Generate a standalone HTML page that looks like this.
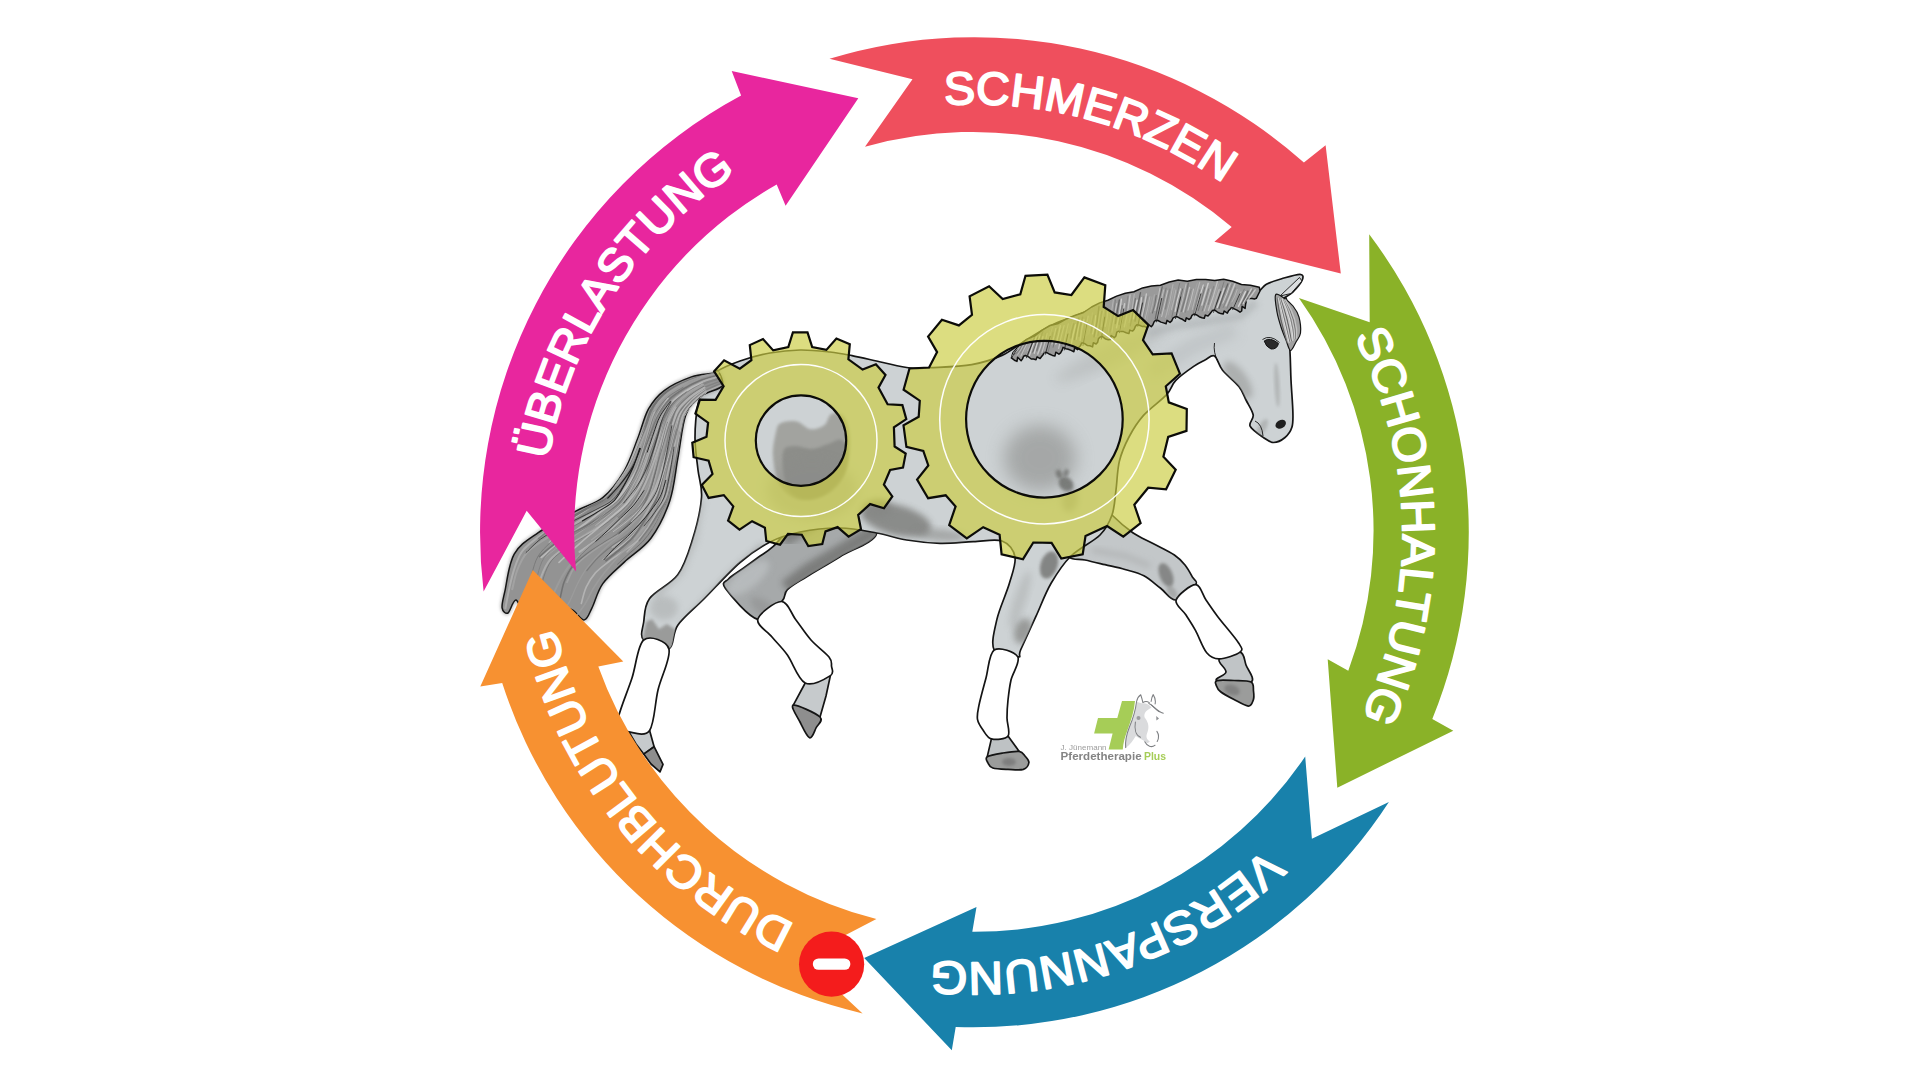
<!DOCTYPE html>
<html lang="de"><head><meta charset="utf-8"><title>Teufelskreis</title>
<style>
html,body{margin:0;padding:0;background:#fff;}
body{width:1920px;height:1080px;overflow:hidden;}
svg{display:block;}
.lbl{font-family:"Liberation Sans","DejaVu Sans",sans-serif;fill:#fff;font-weight:400;stroke:#fff;stroke-width:1.9px;stroke-linejoin:round;}
</style></head><body>
<svg width="1920" height="1080" viewBox="0 0 1920 1080">
<rect width="1920" height="1080" fill="#fff"/>
<defs>
<filter id="b2" x="-30%" y="-30%" width="160%" height="160%"><feGaussianBlur stdDeviation="1.6"/></filter>
<filter id="b3" x="-30%" y="-30%" width="160%" height="160%"><feGaussianBlur stdDeviation="3"/></filter>
<filter id="b6" x="-30%" y="-30%" width="160%" height="160%"><feGaussianBlur stdDeviation="6"/></filter>
<filter id="b8" x="-40%" y="-40%" width="180%" height="180%"><feGaussianBlur stdDeviation="9"/></filter>
</defs>
<g id="horse">
<path d="M876.7 533.0 C875.0 542.5 851.7 549.4 840.0 556.7 C828.3 564.0 815.5 571.2 806.7 576.7 C797.9 582.2 791.6 585.4 787.4 589.6 C783.2 593.8 786.6 596.8 781.7 601.7 C776.8 606.7 767.2 621.5 757.8 619.3 C748.4 617.1 730.4 595.2 725.5 588.5 C720.6 581.8 725.6 582.3 728.5 579.0 C731.4 575.7 738.1 572.1 743.0 568.5 C747.9 564.9 753.0 561.2 758.0 557.5 C763.0 553.8 766.3 552.6 773.3 546.4 C780.3 540.1 787.2 527.7 800.0 520.0 C812.8 512.3 837.2 497.8 850.0 500.0 C862.8 502.2 878.4 523.5 876.7 533.0 Z" fill="#a6a9aa" stroke="#141414" stroke-width="1.7" stroke-linejoin="round" />
<clipPath id="fhclip"><path d="M876.7 533.0 C875.0 542.5 851.7 549.4 840.0 556.7 C828.3 564.0 815.5 571.2 806.7 576.7 C797.9 582.2 791.6 585.4 787.4 589.6 C783.2 593.8 786.6 596.8 781.7 601.7 C776.8 606.7 767.2 621.5 757.8 619.3 C748.4 617.1 730.4 595.2 725.5 588.5 C720.6 581.8 725.6 582.3 728.5 579.0 C731.4 575.7 738.1 572.1 743.0 568.5 C747.9 564.9 753.0 561.2 758.0 557.5 C763.0 553.8 766.3 552.6 773.3 546.4 C780.3 540.1 787.2 527.7 800.0 520.0 C812.8 512.3 837.2 497.8 850.0 500.0 C862.8 502.2 878.4 523.5 876.7 533.0 Z"/></clipPath>
<g clip-path="url(#fhclip)"><path d="M880 528 L842 551 L808 571 L786 588" fill="none" stroke="#7a7b7a" stroke-width="15" opacity="0.95" filter="url(#b3)"/><path d="M880 505 L820 512 L780 535" fill="none" stroke="#7d7e7d" stroke-width="26" opacity="0.9" filter="url(#b3)"/><ellipse cx="748" cy="578" rx="10" ry="26" fill="#BBBFC1" opacity="0.8" filter="url(#b3)" transform="rotate(52 748 578)"/>
<ellipse cx="764" cy="608" rx="16" ry="7" fill="#8f9090" opacity="0.6" filter="url(#b3)" transform="rotate(35 764 608)"/>
</g>
<path d="M1105.0 505.0 C1113.7 500.8 1107.4 510.4 1112.0 515.0 C1116.6 519.6 1126.0 528.0 1132.8 532.8 C1139.6 537.5 1146.1 539.8 1153.0 543.5 C1159.9 547.2 1169.1 551.4 1174.4 555.0 C1179.7 558.6 1182.0 561.3 1185.0 565.0 C1188.0 568.7 1190.7 573.9 1192.5 577.2 C1194.3 580.5 1198.3 580.9 1195.6 584.7 C1192.9 588.5 1181.9 599.4 1176.1 600.0 C1170.3 600.6 1166.0 592.3 1160.6 588.3 C1155.2 584.3 1149.8 578.9 1143.9 575.8 C1138.0 572.7 1131.5 571.4 1125.0 569.5 C1118.5 567.6 1111.7 566.3 1105.0 564.7 C1098.3 563.1 1091.0 561.3 1085.0 560.0 C1079.0 558.7 1073.1 560.4 1068.9 557.1 C1064.7 553.8 1054.0 548.7 1060.0 540.0 C1066.0 531.3 1096.3 509.2 1105.0 505.0 Z" fill="#C3C7C9" stroke="#141414" stroke-width="1.7" stroke-linejoin="round" />
<path d="M805.2 683.0 L793.3 705.2 L800.0 712.0 L820.0 717.0 L826.0 696.0 L830.4 675.6 Z" fill="#C6CACC" stroke="#141414" stroke-width="1.7" stroke-linejoin="round" />
<path d="M793.3 705.2 C790.0 706.0 797.3 716.6 800.0 722.0 C802.7 727.4 806.9 736.8 809.6 737.8 C812.3 738.8 814.3 731.5 816.0 728.0 C817.7 724.5 823.8 720.8 820.0 717.0 C816.2 713.2 796.6 704.4 793.3 705.2 Z" fill="#8e8e8e" stroke="#141414" stroke-width="1.7" stroke-linejoin="round" />
<path d="M757.8 619.3 C756.2 625.2 767.1 631.0 772.0 637.0 C776.9 643.0 781.9 647.3 787.4 655.0 C792.9 662.7 798.0 679.6 805.2 683.0 C812.4 686.4 826.0 678.4 830.4 675.6 C834.8 672.8 831.7 669.1 831.5 666.0 C831.3 662.9 832.4 661.3 829.0 657.0 C825.6 652.7 816.5 646.2 811.0 640.0 C805.5 633.8 800.9 626.4 796.0 620.0 C791.1 613.6 787.9 601.6 781.5 601.5 C775.1 601.4 759.4 613.4 757.8 619.3 Z" fill="#fff" stroke="#141414" stroke-width="1.7" stroke-linejoin="round"/>
<path d="M1219.2 658.9 C1216.9 662.2 1226.4 668.4 1226.0 672.0 C1225.6 675.6 1212.8 678.9 1217.0 680.6 C1221.2 682.3 1246.3 684.6 1251.1 682.0 C1255.9 679.4 1247.8 670.0 1246.0 665.0 C1244.2 660.0 1244.5 653.2 1240.0 652.2 C1235.5 651.2 1221.5 655.6 1219.2 658.9 Z" fill="#C0C4C6" stroke="#141414" stroke-width="1.7" stroke-linejoin="round" />
<path d="M1217.0 680.6 C1214.1 681.5 1215.9 684.1 1216.5 686.0 C1217.1 687.9 1217.7 689.5 1220.6 691.7 C1223.5 694.0 1229.4 697.1 1234.0 699.5 C1238.6 701.9 1245.1 706.0 1248.3 706.1 C1251.5 706.2 1252.4 702.5 1253.3 700.0 C1254.2 697.5 1253.9 694.0 1253.5 691.0 C1253.1 688.0 1254.3 683.8 1251.1 682.0 C1247.8 680.2 1239.7 680.7 1234.0 680.5 C1228.3 680.3 1219.9 679.7 1217.0 680.6 Z" fill="#9b9c9b" stroke="#141414" stroke-width="1.7" stroke-linejoin="round" />
<path d="M1176.1 600.0 C1174.5 605.0 1182.8 609.9 1186.0 615.0 C1189.2 620.1 1192.1 624.3 1195.6 630.6 C1199.0 636.9 1202.8 648.1 1206.7 652.8 C1210.6 657.5 1213.7 659.0 1219.2 658.9 C1224.8 658.8 1236.8 654.9 1240.0 652.2 C1243.2 649.6 1242.3 648.9 1238.6 643.0 C1234.9 637.1 1223.2 623.9 1217.8 616.7 C1212.4 609.5 1209.7 605.3 1206.0 600.0 C1202.3 594.7 1200.6 584.7 1195.6 584.7 C1190.6 584.7 1177.7 595.0 1176.1 600.0 Z" fill="#fff" stroke="#141414" stroke-width="1.7" stroke-linejoin="round"/>
<clipPath id="bodyclip"><path d="M716.0 372.0 C721.8 368.0 731.0 364.2 740.0 361.0 C749.0 357.8 760.0 354.8 770.0 353.0 C780.0 351.2 790.0 350.2 800.0 350.0 C810.0 349.8 821.3 351.1 830.0 352.0 C838.7 352.9 843.2 353.9 852.0 355.6 C860.8 357.4 873.3 360.4 883.0 362.5 C892.7 364.6 902.2 367.1 910.0 368.0 C917.8 368.9 919.7 368.3 930.0 367.7 C940.3 367.1 959.7 366.7 971.7 364.6 C983.7 362.6 993.4 359.2 1002.0 355.4 C1010.6 351.6 1015.6 346.6 1023.6 341.7 C1031.6 336.8 1041.3 330.3 1050.0 326.0 C1058.7 321.7 1066.3 319.5 1075.6 315.7 C1084.9 311.9 1095.1 306.9 1106.0 303.0 C1116.9 299.1 1129.0 295.0 1141.0 292.0 C1153.0 289.0 1164.5 286.3 1178.0 285.0 C1191.5 283.7 1209.7 283.3 1222.0 284.0 C1234.3 284.7 1245.8 287.9 1252.0 289.0 C1258.2 290.1 1256.9 291.5 1259.3 290.7 C1261.7 289.9 1262.7 286.2 1266.4 284.2 C1270.1 282.2 1276.1 280.3 1281.7 278.7 C1287.3 277.1 1296.6 274.1 1300.0 274.3 C1303.4 274.5 1303.5 277.0 1302.3 280.0 C1301.0 283.0 1295.6 289.4 1292.5 292.5 C1289.4 295.6 1284.6 296.9 1283.7 298.5 C1282.8 300.1 1286.0 293.4 1287.0 302.0 C1288.0 310.6 1289.2 336.8 1289.9 349.8 C1290.6 362.8 1290.5 369.5 1291.0 380.0 C1291.5 390.5 1292.8 405.1 1292.9 413.0 C1293.1 420.9 1293.2 423.2 1291.9 427.3 C1290.6 431.4 1288.0 435.0 1285.0 437.5 C1282.0 440.0 1277.2 442.5 1273.6 442.5 C1270.0 442.5 1267.3 440.2 1263.4 437.5 C1259.5 434.8 1251.8 429.9 1250.1 426.2 C1248.4 422.4 1253.9 419.4 1253.2 415.0 C1252.5 410.6 1248.4 404.8 1246.0 400.0 C1243.6 395.2 1242.8 391.5 1238.9 386.5 C1235.0 381.5 1226.7 375.3 1222.6 370.2 C1218.5 365.1 1217.4 357.7 1214.5 356.0 C1211.6 354.3 1208.4 358.3 1205.0 360.0 C1201.6 361.7 1199.0 362.7 1194.1 366.1 C1189.2 369.5 1180.4 375.6 1175.8 380.4 C1171.2 385.2 1171.8 389.1 1166.4 394.9 C1161.0 400.7 1149.7 408.4 1143.5 415.4 C1137.3 422.4 1133.0 429.4 1129.0 437.0 C1125.0 444.6 1121.6 452.3 1119.4 461.1 C1117.2 469.9 1117.2 481.0 1116.0 490.0 C1114.8 499.0 1114.7 507.5 1112.0 515.0 C1109.3 522.5 1106.8 528.2 1100.0 535.0 C1093.2 541.8 1079.2 548.0 1071.0 556.0 C1062.8 564.0 1057.0 573.2 1051.1 583.3 C1045.2 593.4 1040.9 605.6 1035.8 616.7 C1030.7 627.8 1023.6 643.3 1020.6 650.0 C1017.6 656.7 1022.2 656.9 1017.8 656.9 C1013.4 656.9 997.7 656.2 994.2 650.0 C990.7 643.8 994.4 630.5 996.9 619.4 C999.4 608.3 1006.4 593.7 1009.4 583.3 C1012.4 572.9 1016.2 564.0 1015.0 557.0 C1013.8 550.0 1009.0 543.5 1002.0 541.0 C995.0 538.5 983.6 541.3 973.3 541.7 C963.0 542.1 951.1 543.6 940.0 543.3 C928.9 543.0 917.2 541.7 906.7 540.0 C896.2 538.3 887.8 535.0 876.7 533.0 C865.6 531.0 852.8 528.2 840.0 528.0 C827.2 527.8 811.7 529.6 800.0 532.0 C788.3 534.4 779.6 537.1 769.6 542.2 C759.6 547.3 750.9 553.1 740.0 562.5 C729.1 571.9 714.8 588.0 704.4 598.5 C694.0 609.0 683.7 616.8 677.8 625.2 C671.9 633.6 674.6 646.4 668.9 648.9 C663.2 651.4 647.9 644.5 643.7 640.0 C639.5 635.5 642.7 629.1 643.7 622.2 C644.7 615.3 643.9 606.4 649.6 598.5 C655.3 590.6 670.6 584.7 677.8 574.8 C685.0 564.9 688.6 552.1 692.6 539.3 C696.6 526.5 700.6 509.4 701.5 497.8 C702.4 486.2 699.1 480.0 698.0 470.0 C696.9 460.0 695.0 449.0 695.0 438.0 C695.0 427.0 696.3 412.8 698.0 404.0 C699.7 395.2 702.0 390.3 705.0 385.0 C708.0 379.7 710.2 376.0 716.0 372.0 Z"/></clipPath>
<path d="M716.0 372.0 C721.8 368.0 731.0 364.2 740.0 361.0 C749.0 357.8 760.0 354.8 770.0 353.0 C780.0 351.2 790.0 350.2 800.0 350.0 C810.0 349.8 821.3 351.1 830.0 352.0 C838.7 352.9 843.2 353.9 852.0 355.6 C860.8 357.4 873.3 360.4 883.0 362.5 C892.7 364.6 902.2 367.1 910.0 368.0 C917.8 368.9 919.7 368.3 930.0 367.7 C940.3 367.1 959.7 366.7 971.7 364.6 C983.7 362.6 993.4 359.2 1002.0 355.4 C1010.6 351.6 1015.6 346.6 1023.6 341.7 C1031.6 336.8 1041.3 330.3 1050.0 326.0 C1058.7 321.7 1066.3 319.5 1075.6 315.7 C1084.9 311.9 1095.1 306.9 1106.0 303.0 C1116.9 299.1 1129.0 295.0 1141.0 292.0 C1153.0 289.0 1164.5 286.3 1178.0 285.0 C1191.5 283.7 1209.7 283.3 1222.0 284.0 C1234.3 284.7 1245.8 287.9 1252.0 289.0 C1258.2 290.1 1256.9 291.5 1259.3 290.7 C1261.7 289.9 1262.7 286.2 1266.4 284.2 C1270.1 282.2 1276.1 280.3 1281.7 278.7 C1287.3 277.1 1296.6 274.1 1300.0 274.3 C1303.4 274.5 1303.5 277.0 1302.3 280.0 C1301.0 283.0 1295.6 289.4 1292.5 292.5 C1289.4 295.6 1284.6 296.9 1283.7 298.5 C1282.8 300.1 1286.0 293.4 1287.0 302.0 C1288.0 310.6 1289.2 336.8 1289.9 349.8 C1290.6 362.8 1290.5 369.5 1291.0 380.0 C1291.5 390.5 1292.8 405.1 1292.9 413.0 C1293.1 420.9 1293.2 423.2 1291.9 427.3 C1290.6 431.4 1288.0 435.0 1285.0 437.5 C1282.0 440.0 1277.2 442.5 1273.6 442.5 C1270.0 442.5 1267.3 440.2 1263.4 437.5 C1259.5 434.8 1251.8 429.9 1250.1 426.2 C1248.4 422.4 1253.9 419.4 1253.2 415.0 C1252.5 410.6 1248.4 404.8 1246.0 400.0 C1243.6 395.2 1242.8 391.5 1238.9 386.5 C1235.0 381.5 1226.7 375.3 1222.6 370.2 C1218.5 365.1 1217.4 357.7 1214.5 356.0 C1211.6 354.3 1208.4 358.3 1205.0 360.0 C1201.6 361.7 1199.0 362.7 1194.1 366.1 C1189.2 369.5 1180.4 375.6 1175.8 380.4 C1171.2 385.2 1171.8 389.1 1166.4 394.9 C1161.0 400.7 1149.7 408.4 1143.5 415.4 C1137.3 422.4 1133.0 429.4 1129.0 437.0 C1125.0 444.6 1121.6 452.3 1119.4 461.1 C1117.2 469.9 1117.2 481.0 1116.0 490.0 C1114.8 499.0 1114.7 507.5 1112.0 515.0 C1109.3 522.5 1106.8 528.2 1100.0 535.0 C1093.2 541.8 1079.2 548.0 1071.0 556.0 C1062.8 564.0 1057.0 573.2 1051.1 583.3 C1045.2 593.4 1040.9 605.6 1035.8 616.7 C1030.7 627.8 1023.6 643.3 1020.6 650.0 C1017.6 656.7 1022.2 656.9 1017.8 656.9 C1013.4 656.9 997.7 656.2 994.2 650.0 C990.7 643.8 994.4 630.5 996.9 619.4 C999.4 608.3 1006.4 593.7 1009.4 583.3 C1012.4 572.9 1016.2 564.0 1015.0 557.0 C1013.8 550.0 1009.0 543.5 1002.0 541.0 C995.0 538.5 983.6 541.3 973.3 541.7 C963.0 542.1 951.1 543.6 940.0 543.3 C928.9 543.0 917.2 541.7 906.7 540.0 C896.2 538.3 887.8 535.0 876.7 533.0 C865.6 531.0 852.8 528.2 840.0 528.0 C827.2 527.8 811.7 529.6 800.0 532.0 C788.3 534.4 779.6 537.1 769.6 542.2 C759.6 547.3 750.9 553.1 740.0 562.5 C729.1 571.9 714.8 588.0 704.4 598.5 C694.0 609.0 683.7 616.8 677.8 625.2 C671.9 633.6 674.6 646.4 668.9 648.9 C663.2 651.4 647.9 644.5 643.7 640.0 C639.5 635.5 642.7 629.1 643.7 622.2 C644.7 615.3 643.9 606.4 649.6 598.5 C655.3 590.6 670.6 584.7 677.8 574.8 C685.0 564.9 688.6 552.1 692.6 539.3 C696.6 526.5 700.6 509.4 701.5 497.8 C702.4 486.2 699.1 480.0 698.0 470.0 C696.9 460.0 695.0 449.0 695.0 438.0 C695.0 427.0 696.3 412.8 698.0 404.0 C699.7 395.2 702.0 390.3 705.0 385.0 C708.0 379.7 710.2 376.0 716.0 372.0 Z" fill="#CDD2D4" stroke="#141414" stroke-width="1.7" stroke-linejoin="round" />
<g clip-path="url(#bodyclip)">
<path d="M776.0 432.0 C777.3 426.3 777.5 424.8 781.0 423.0 C784.5 421.2 791.8 420.5 796.7 421.5 C801.6 422.5 806.0 428.6 810.6 429.2 C815.2 429.8 820.9 427.6 824.4 425.0 C827.9 422.4 828.1 415.3 831.4 413.9 C834.6 412.5 840.8 412.5 843.9 416.7 C847.0 420.9 849.6 430.0 850.0 438.9 C850.4 447.8 849.3 461.1 846.0 470.0 C842.7 478.9 837.3 487.0 830.0 492.0 C822.7 497.0 810.4 500.8 802.2 500.0 C794.0 499.2 785.9 494.2 781.0 487.0 C776.1 479.8 773.8 466.2 773.0 457.0 C772.2 447.8 774.7 437.7 776.0 432.0 Z" fill="#a0a19d" opacity="0.95" filter="url(#b2)"/>
<path d="M783.0 452.0 C784.5 445.7 790.2 446.5 795.0 446.0 C799.8 445.5 806.5 449.3 812.0 449.0 C817.5 448.7 823.0 445.5 828.0 444.0 C833.0 442.5 838.7 438.2 842.0 440.0 C845.3 441.8 848.0 448.7 848.0 455.0 C848.0 461.3 846.3 471.2 842.0 478.0 C837.7 484.8 829.0 492.7 822.0 496.0 C815.0 499.3 806.0 500.0 800.0 498.0 C794.0 496.0 788.8 491.7 786.0 484.0 C783.2 476.3 781.5 458.3 783.0 452.0 Z" fill="#8c8d89" opacity="0.95" filter="url(#b2)"/>
<ellipse cx="812" cy="490" rx="45" ry="30" fill="#8a8b89" opacity="0.35" filter="url(#b6)"/>
<ellipse cx="1040" cy="458" rx="36" ry="33" fill="#8a8b89" opacity="0.6" filter="url(#b8)"/>
<ellipse cx="1066" cy="484" rx="8" ry="6.5" fill="#6e6f6d" opacity="0.85" filter="url(#b2)" transform="rotate(40 1066 484)"/>
<ellipse cx="1059" cy="474" rx="3" ry="4.5" fill="#6e6f6d" opacity="0.8" filter="url(#b2)" transform="rotate(-20 1059 474)"/>
<ellipse cx="1066" cy="473" rx="2.5" ry="4" fill="#6e6f6d" opacity="0.75" filter="url(#b2)" transform="rotate(20 1066 473)"/>
<ellipse cx="1070" cy="500" rx="8" ry="12" fill="#7a7b79" opacity="0.4" filter="url(#b3)" transform="rotate(10 1070 500)"/>
<ellipse cx="896" cy="520" rx="36" ry="15" fill="#838482" opacity="0.9" filter="url(#b3)" transform="rotate(14 896 520)"/>
<ellipse cx="878" cy="508" rx="14" ry="9" fill="#858684" opacity="0.7" filter="url(#b3)"/>
<ellipse cx="940" cy="535" rx="26" ry="6" fill="#858684" opacity="0.55" filter="url(#b3)" transform="rotate(5 940 535)"/>
<path d="M646.0 622.0 L652.0 619.0 L659.0 629.0 L667.0 624.0 L676.0 630.0 L673.0 650.0 L642.0 642.0 Z" fill="#979897" opacity="0.95" filter="url(#b2)"/>
<ellipse cx="664" cy="608" rx="14" ry="12" fill="#a3a5a5" opacity="0.45" filter="url(#b3)"/>
<path d="M764 547 L736 572 L706 603 L684 628" fill="none" stroke="#9c9e9e" stroke-width="9" opacity="0.7" filter="url(#b3)"/>
<path d="M701 500 L694 540 L680 572 L655 597" fill="none" stroke="#a8aaaa" stroke-width="6" opacity="0.55" filter="url(#b3)"/>
<ellipse cx="1049" cy="565" rx="8.5" ry="14" fill="#7c7d7b" opacity="0.9" filter="url(#b2)" transform="rotate(18 1049 565)"/>
<ellipse cx="1023" cy="631" rx="8.5" ry="13" fill="#8a8b89" opacity="0.8" filter="url(#b3)" transform="rotate(20 1023 631)"/>
<ellipse cx="1020" cy="600" rx="6" ry="30" fill="#8c8d8b" opacity="0.25" filter="url(#b3)" transform="rotate(18 1020 600)"/>
<ellipse cx="1238" cy="380" rx="9" ry="22" fill="#8c8d8b" opacity="0.5" filter="url(#b3)" transform="rotate(-35 1238 380)"/>
<ellipse cx="1277" cy="385" rx="2.5" ry="22" fill="#8c8d8b" opacity="0.4" filter="url(#b2)" transform="rotate(-3 1277 385)"/>
<ellipse cx="1262" cy="428" rx="4" ry="10" fill="#8c8d8b" opacity="0.4" filter="url(#b2)" transform="rotate(30 1262 428)"/>
<ellipse cx="1110" cy="355" rx="60" ry="10" fill="#8c8d8b" opacity="0.22" filter="url(#b6)" transform="rotate(-25 1110 355)"/>
<path d="M1148 333 L1180 325 L1203 322 L1240 316 L1256 302" fill="none" stroke="#a9adaf" stroke-width="8" opacity="0.6" filter="url(#b3)"/>
<path d="M1150 372 L1195 345 L1235 330" fill="none" stroke="#b3b7b9" stroke-width="14" opacity="0.5" filter="url(#b6)"/>
</g>
<ellipse cx="1166" cy="575" rx="6.5" ry="12.5" fill="#7c7d7b" opacity="0.85" filter="url(#b2)" transform="rotate(-22 1166 575)"/>
<ellipse cx="1172" cy="592" rx="4" ry="7" fill="#8a8b89" opacity="0.5" filter="url(#b2)" transform="rotate(-35 1172 592)"/>
<path d="M1092 550 L1125 556 L1150 566" fill="none" stroke="#a4a6a6" stroke-width="5" opacity="0.55" filter="url(#b3)"/>
<g><path d="M718.0 371.0 C716.5 368.9 717.3 372.2 712.9 373.2 C708.5 374.2 699.5 374.0 691.4 376.9 C683.3 379.8 671.7 384.9 664.5 390.3 C657.3 395.7 652.9 401.1 648.4 409.1 C643.9 417.2 641.7 428.3 637.7 438.6 C633.7 448.9 630.1 461.0 624.3 470.8 C618.5 480.6 610.9 491.0 602.8 497.7 C594.7 504.4 586.6 505.3 575.9 511.1 C565.1 516.9 548.6 525.4 538.3 532.6 C528.0 539.8 519.8 544.2 514.2 554.1 C508.6 564.0 506.8 582.8 504.8 591.7 C502.8 600.7 501.6 604.2 502.1 607.8 C502.6 611.3 505.7 614.3 508.0 613.0 C510.3 611.7 513.0 599.5 516.0 600.0 C519.0 600.5 522.0 615.3 526.0 616.0 C530.0 616.7 535.0 603.0 540.0 604.0 C545.0 605.0 551.0 621.2 556.0 622.0 C561.0 622.8 565.3 609.3 570.0 609.0 C574.7 608.7 580.3 620.2 584.0 620.0 C587.7 619.8 588.9 613.9 592.0 607.8 C595.1 601.7 597.4 591.2 602.8 583.6 C608.2 576.0 616.2 569.7 624.3 562.1 C632.3 554.5 643.5 548.3 651.1 538.0 C658.7 527.7 665.4 513.8 669.9 500.4 C674.4 487.0 675.3 471.7 678.0 457.4 C680.7 443.1 682.0 424.7 686.0 414.4 C690.0 404.1 696.1 400.3 702.1 395.6 C708.1 390.9 719.4 390.1 722.0 386.0 C724.6 381.9 719.5 373.1 718.0 371.0 Z" fill="none" stroke="#9a9a9a" stroke-width="4" opacity="0.55" filter="url(#b2)"/>
<path d="M718.0 371.0 C716.5 368.9 717.3 372.2 712.9 373.2 C708.5 374.2 699.5 374.0 691.4 376.9 C683.3 379.8 671.7 384.9 664.5 390.3 C657.3 395.7 652.9 401.1 648.4 409.1 C643.9 417.2 641.7 428.3 637.7 438.6 C633.7 448.9 630.1 461.0 624.3 470.8 C618.5 480.6 610.9 491.0 602.8 497.7 C594.7 504.4 586.6 505.3 575.9 511.1 C565.1 516.9 548.6 525.4 538.3 532.6 C528.0 539.8 519.8 544.2 514.2 554.1 C508.6 564.0 506.8 582.8 504.8 591.7 C502.8 600.7 501.6 604.2 502.1 607.8 C502.6 611.3 505.7 614.3 508.0 613.0 C510.3 611.7 513.0 599.5 516.0 600.0 C519.0 600.5 522.0 615.3 526.0 616.0 C530.0 616.7 535.0 603.0 540.0 604.0 C545.0 605.0 551.0 621.2 556.0 622.0 C561.0 622.8 565.3 609.3 570.0 609.0 C574.7 608.7 580.3 620.2 584.0 620.0 C587.7 619.8 588.9 613.9 592.0 607.8 C595.1 601.7 597.4 591.2 602.8 583.6 C608.2 576.0 616.2 569.7 624.3 562.1 C632.3 554.5 643.5 548.3 651.1 538.0 C658.7 527.7 665.4 513.8 669.9 500.4 C674.4 487.0 675.3 471.7 678.0 457.4 C680.7 443.1 682.0 424.7 686.0 414.4 C690.0 404.1 696.1 400.3 702.1 395.6 C708.1 390.9 719.4 390.1 722.0 386.0 C724.6 381.9 719.5 373.1 718.0 371.0 Z" fill="#939393" stroke="#161616" stroke-width="1.5"/>
<g fill="none" stroke-linecap="round">
<path d="M650.6 409.1 C649.4 412.2 645.8 421.6 643.5 427.8 C641.1 434.0 638.8 440.3 636.4 446.6 C634.0 452.8 631.9 459.3 628.8 465.1 C625.8 471.0 622.0 476.5 618.2 481.9 C614.3 487.3 610.7 493.4 605.8 497.7 C600.8 501.9 594.2 504.0 588.4 507.2 C582.5 510.4 576.7 513.6 570.8 516.9 C565.0 520.1 559.2 523.4 553.5 526.9 C547.8 530.5 542.2 534.0 536.9 538.1 C531.7 542.2 525.8 546.3 522.0 551.5 C518.2 556.7 516.3 563.0 514.2 569.2 C512.1 575.4 510.7 582.1 509.2 588.6 C507.8 595.2 506.0 605.0 505.4 608.3" stroke="#b4b4b4" stroke-width="2.0" opacity="0.8"/>
<path d="M650.6 409.1 C649.5 412.3 646.2 421.8 644.0 428.1 C641.8 434.5 639.8 440.9 637.4 447.1 C635.0 453.3 632.7 459.6 629.5 465.4 C626.3 471.2 622.1 476.5 618.2 481.9 C614.2 487.3 610.7 493.4 605.8 497.7 C600.8 501.9 594.2 504.0 588.4 507.2 C582.5 510.4 576.7 513.6 570.8 516.9 C565.0 520.1 558.9 523.3 553.5 526.9 C548.1 530.6 540.9 536.6 538.4 538.6" stroke="#747474" stroke-width="1.3" opacity="0.8"/>
<path d="M664.1 394.6 C662.1 397.2 655.4 404.7 652.1 410.3 C648.9 416.0 647.3 422.5 644.7 428.6 C642.2 434.7 639.5 440.7 636.8 446.8 C634.2 452.9 631.9 459.3 628.8 465.1 C625.7 471.0 622.0 476.5 618.2 481.9 C614.3 487.3 610.5 493.4 605.8 497.7 C601.2 502.0 595.3 504.4 590.1 507.8 C584.8 511.2 579.7 514.6 574.2 518.0 C568.7 521.4 560.1 526.5 557.3 528.2" stroke="#c2c2c2" stroke-width="1.0" opacity="0.8"/>
<path d="M699.1 377.0 C696.0 378.2 686.6 381.3 680.7 384.1 C674.8 387.0 668.6 389.9 663.8 394.2 C658.9 398.5 654.6 404.0 651.5 409.9 C648.4 415.7 647.4 422.6 645.4 429.0 C643.3 435.4 641.4 441.8 639.2 448.0 C636.9 454.2 635.0 460.6 631.9 466.4 C628.8 472.2 625.0 477.5 620.9 482.8 C616.8 488.1 612.6 494.0 607.3 498.1 C602.0 502.2 595.0 504.3 589.1 507.5 C583.2 510.7 574.7 515.6 571.9 517.2" stroke="#6a6a6a" stroke-width="2.4" opacity="0.8"/>
<path d="M718.4 372.5 C715.2 373.3 705.5 375.3 699.3 377.4 C693.1 379.5 687.0 381.9 681.3 385.0 C675.6 388.0 669.8 391.3 665.2 395.7 C660.6 400.2 656.8 405.9 653.6 411.5 C650.5 417.2 648.9 423.6 646.4 429.6 C643.9 435.7 641.3 441.7 638.7 447.7 C636.0 453.8 633.6 460.0 630.5 465.8 C627.4 471.6 623.6 477.1 620.0 482.5 C616.3 488.0 613.0 494.1 608.6 498.5 C604.2 502.9 598.4 505.4 593.3 508.9 C588.2 512.3 583.1 515.8 577.8 519.3 C572.4 522.7 566.7 526.0 561.0 529.5 C555.3 533.0 549.2 536.3 543.5 540.2 C537.8 544.1 531.1 547.9 526.7 552.9 C522.3 557.8 519.7 563.9 517.3 570.0 C514.9 576.1 513.1 586.1 512.2 589.3" stroke="#a6a6a6" stroke-width="2.0" opacity="0.8"/>
<path d="M654.1 411.9 C653.1 415.0 650.0 424.4 647.7 430.5 C645.5 436.7 643.2 442.7 640.7 448.8 C638.2 454.8 635.8 461.0 632.6 466.7 C629.4 472.4 625.4 477.7 621.5 483.0 C617.6 488.4 613.8 494.4 609.1 498.6 C604.3 502.9 598.2 505.3 593.0 508.8 C587.8 512.2 582.9 515.8 577.8 519.3 C572.8 522.8 565.1 528.2 562.6 530.0" stroke="#7e7e7e" stroke-width="2.4" opacity="0.8"/>
<path d="M654.0 411.8 C652.8 414.8 649.0 423.7 646.6 429.8 C644.2 435.8 641.9 442.0 639.6 448.2 C637.4 454.4 635.6 460.9 633.0 466.9 C630.5 472.8 627.6 478.5 624.3 484.0 C621.1 489.5 618.1 495.6 613.7 500.0 C609.3 504.4 603.4 507.1 597.9 510.4 C592.4 513.8 583.3 518.6 580.4 520.2" stroke="#bcbcbc" stroke-width="1.0" opacity="0.8"/>
<path d="M700.0 378.8 C697.0 380.1 688.1 383.6 682.5 386.7 C676.9 389.8 671.2 393.0 666.6 397.3 C661.9 401.5 657.8 406.8 654.6 412.3 C651.4 417.8 649.7 424.2 647.3 430.3 C645.0 436.3 642.8 442.5 640.6 448.7 C638.4 454.9 636.7 461.4 634.2 467.4 C631.7 473.3 628.9 479.0 625.8 484.5 C622.6 490.0 619.5 496.1 615.1 500.5 C610.7 504.9 602.0 509.2 599.4 510.9" stroke="#9e9e9e" stroke-width="2.0" opacity="0.8"/>
<path d="M654.8 412.4 C653.8 415.5 650.7 424.9 648.8 431.2 C646.9 437.5 645.3 443.9 643.3 450.1 C641.4 456.3 639.8 462.7 637.2 468.6 C634.6 474.4 631.5 479.9 627.9 485.2 C624.2 490.6 620.3 496.3 615.3 500.5 C610.4 504.7 603.8 507.2 598.0 510.4 C592.2 513.7 586.1 516.9 580.5 520.2 C574.9 523.6 569.2 526.9 564.1 530.5 C559.0 534.2 552.2 540.3 549.8 542.3" stroke="#b4b4b4" stroke-width="2.4" opacity="0.8"/>
<path d="M683.0 387.4 C680.3 389.1 671.7 393.5 667.1 397.8 C662.5 402.0 658.4 407.3 655.4 412.9 C652.4 418.5 651.1 425.2 649.2 431.4 C647.2 437.6 645.5 444.0 643.6 450.2 C641.7 456.5 640.2 462.9 637.8 468.8 C635.5 474.8 632.7 480.3 629.3 485.7 C625.9 491.1 622.3 496.9 617.5 501.2 C612.7 505.4 606.4 508.0 600.7 511.3 C594.9 514.7 588.8 517.8 582.9 521.1 C577.1 524.3 571.0 527.5 565.6 531.1 C560.2 534.6 555.1 538.3 550.5 542.5 C545.9 546.7 541.2 551.0 538.1 556.2 C534.9 561.4 533.7 567.6 531.8 573.6 C530.0 579.7 528.9 586.2 527.2 592.3 C525.4 598.5 522.3 607.6 521.4 610.7" stroke="#747474" stroke-width="1.0" opacity="0.8"/>
<path d="M667.9 398.7 C666.3 401.4 660.6 409.1 657.9 414.9 C655.3 420.6 654.1 427.1 652.0 433.2 C649.9 439.2 647.8 445.2 645.4 451.2 C643.0 457.1 640.7 463.1 637.8 468.8 C634.8 474.5 631.3 479.8 627.6 485.1 C623.9 490.4 620.2 496.3 615.8 500.7 C611.4 505.0 605.9 507.8 601.0 511.5 C596.2 515.1 591.6 518.8 586.8 522.4 C582.0 526.1 577.1 529.6 572.1 533.3 C567.1 537.0 562.0 540.6 556.9 544.6 C551.8 548.6 544.0 555.1 541.4 557.2" stroke="#c2c2c2" stroke-width="2.0" opacity="0.8"/>
<path d="M719.0 374.9 C716.0 375.8 706.6 378.1 700.7 380.3 C694.8 382.6 689.2 385.4 683.9 388.6 C678.6 391.9 673.2 395.3 668.9 399.7 C664.6 404.1 661.1 409.6 658.1 415.1 C655.2 420.5 653.4 426.7 651.1 432.6 C648.8 438.6 646.6 444.6 644.4 450.6 C642.2 456.7 640.3 463.0 637.9 468.9 C635.5 474.7 632.8 480.4 629.8 485.9 C626.9 491.4 623.9 497.4 619.9 501.9 C615.9 506.4 610.9 509.5 605.9 513.1 C600.9 516.7 595.6 520.1 590.0 523.5 C584.3 526.9 578.1 529.9 572.2 533.3 C566.3 536.7 560.1 540.0 554.7 543.9 C549.2 547.7 541.9 554.5 539.4 556.6" stroke="#6a6a6a" stroke-width="1.6" opacity="0.8"/>
<path d="M659.6 416.2 C658.6 419.2 655.6 428.2 653.4 434.1 C651.3 440.0 649.0 445.9 646.6 451.8 C644.2 457.7 642.0 463.7 639.2 469.4 C636.4 475.1 633.1 480.5 629.7 485.9 C626.4 491.2 623.0 497.1 619.0 501.6 C614.9 506.1 609.9 509.2 605.3 512.9 C600.8 516.6 596.4 520.4 591.5 524.1 C586.7 527.7 581.5 531.1 576.3 534.7 C571.0 538.3 565.5 541.7 560.1 545.6 C554.7 549.5 546.7 555.9 544.0 558.0" stroke="#a6a6a6" stroke-width="1.0" opacity="0.8"/>
<path d="M719.2 375.6 C716.2 376.5 706.9 378.9 701.1 381.2 C695.3 383.5 689.8 386.4 684.5 389.6 C679.3 392.8 673.9 396.2 669.6 400.5 C665.4 404.9 661.8 410.2 659.0 415.7 C656.1 421.2 654.4 427.4 652.3 433.4 C650.2 439.4 648.3 445.6 646.4 451.7 C644.4 457.8 642.9 464.1 640.8 470.0 C638.6 475.9 636.3 481.7 633.4 487.1 C630.5 492.6 627.5 498.4 623.3 502.9 C619.2 507.4 613.9 510.5 608.7 514.0 C603.5 517.6 597.8 520.9 592.1 524.3 C586.4 527.6 580.0 530.6 574.3 534.0 C568.5 537.4 562.7 540.8 557.7 544.8 C552.7 548.8 547.4 552.9 544.0 558.0 C540.6 563.0 539.2 569.1 537.6 575.1 C535.9 581.0 534.6 590.6 534.1 593.8" stroke="#7e7e7e" stroke-width="1.0" opacity="0.8"/>
<path d="M670.5 401.5 C668.9 404.1 663.7 411.8 661.1 417.3 C658.4 422.9 656.8 429.0 654.6 434.9 C652.4 440.7 650.2 446.5 647.9 452.4 C645.6 458.3 643.4 464.3 640.9 470.1 C638.3 475.8 635.5 481.3 632.4 486.8 C629.3 492.2 626.3 498.1 622.5 502.6 C618.7 507.2 614.0 510.5 609.6 514.3 C605.1 518.1 598.0 523.6 595.7 525.5" stroke="#bcbcbc" stroke-width="1.0" opacity="0.8"/>
<path d="M719.4 376.3 C716.4 377.2 707.1 379.5 701.4 381.8 C695.7 384.2 690.2 387.0 685.1 390.4 C680.0 393.8 674.9 397.4 671.0 402.0 C667.1 406.6 664.4 412.4 661.8 417.9 C659.2 423.5 657.7 429.6 655.5 435.4 C653.3 441.2 651.1 447.0 648.8 452.9 C646.5 458.7 644.4 464.8 641.9 470.5 C639.4 476.2 636.6 481.8 633.6 487.2 C630.6 492.6 627.6 498.4 623.8 503.1 C620.1 507.7 615.6 511.0 611.2 514.9 C606.8 518.7 602.4 522.5 597.4 526.1 C592.5 529.7 587.0 533.0 581.6 536.5 C576.1 540.0 567.6 545.4 564.9 547.2" stroke="#9e9e9e" stroke-width="1.3" opacity="0.8"/>
<path d="M719.5 376.6 C716.5 377.6 707.3 379.9 701.6 382.3 C696.0 384.7 690.5 387.6 685.5 391.0 C680.5 394.4 675.4 398.1 671.5 402.6 C667.7 407.2 664.9 412.8 662.3 418.3 C659.7 423.8 658.0 429.8 655.8 435.6 C653.6 441.4 651.4 447.3 649.3 453.1 C647.1 459.0 645.2 465.1 642.9 470.9 C640.6 476.7 638.2 482.3 635.4 487.8 C632.5 493.3 629.7 499.1 626.0 503.7 C622.4 508.3 617.9 511.8 613.5 515.6 C609.0 519.5 604.4 523.2 599.2 526.7 C594.1 530.3 588.2 533.4 582.6 536.8 C577.0 540.3 571.0 543.6 565.6 547.4 C560.2 551.2 554.1 555.0 550.0 559.8 C546.0 564.5 543.6 570.3 541.5 576.0 C539.3 581.8 538.5 588.3 537.2 594.4 C535.9 600.5 534.2 609.5 533.6 612.5" stroke="#b4b4b4" stroke-width="2.0" opacity="0.8"/>
<path d="M672.0 403.1 C670.5 405.7 665.4 413.2 662.8 418.7 C660.1 424.1 658.4 430.1 656.3 435.9 C654.2 441.7 652.1 447.6 650.0 453.5 C648.0 459.4 646.3 465.6 644.1 471.4 C641.9 477.2 639.7 482.9 637.0 488.4 C634.3 493.9 631.5 499.6 627.9 504.3 C624.3 508.9 619.8 512.4 615.3 516.2 C610.8 520.1 606.0 523.8 600.7 527.3 C595.5 530.8 589.4 533.8 583.8 537.2 C578.1 540.7 572.2 544.0 566.8 547.8 C561.5 551.6 555.6 555.5 551.8 560.3 C548.0 565.1 545.8 570.9 543.9 576.6 C541.9 582.4 540.6 591.9 540.0 595.0" stroke="#747474" stroke-width="1.0" opacity="0.8"/>
<path d="M702.0 383.0 C699.3 384.4 690.8 388.1 685.8 391.4 C680.8 394.8 675.6 398.3 671.8 402.9 C668.1 407.6 665.7 413.5 663.5 419.2 C661.3 425.0 660.4 431.4 658.7 437.4 C657.0 443.4 655.3 449.3 653.3 455.2 C651.4 461.1 649.5 467.0 646.9 472.6 C644.4 478.2 641.5 483.5 638.1 488.7 C634.8 494.0 630.9 499.5 626.7 503.9 C622.5 508.4 617.5 511.6 613.0 515.5 C608.4 519.3 604.1 523.1 599.6 526.9 C595.2 530.7 590.6 534.2 586.1 538.0 C581.7 541.9 577.2 545.7 572.7 549.7 C568.2 553.8 561.3 560.3 559.0 562.4" stroke="#c2c2c2" stroke-width="1.6" opacity="0.8"/>
<path d="M686.6 392.5 C684.3 394.4 676.6 399.4 672.7 403.9 C668.8 408.3 665.9 413.7 663.4 419.2 C660.8 424.6 659.3 430.7 657.4 436.6 C655.5 442.5 653.8 448.6 652.1 454.6 C650.4 460.6 649.1 466.8 647.2 472.7 C645.3 478.5 643.5 484.3 640.9 489.7 C638.3 495.1 635.3 500.8 631.5 505.3 C627.7 509.9 620.3 515.2 618.1 517.2" stroke="#6a6a6a" stroke-width="2.0" opacity="0.8"/>
<path d="M719.9 378.0 C716.9 379.0 707.9 381.3 702.4 383.8 C696.8 386.2 691.5 389.2 686.7 392.7 C681.9 396.2 676.9 400.0 673.4 404.7 C669.9 409.4 667.9 415.3 665.7 420.9 C663.5 426.6 662.1 432.6 660.2 438.4 C658.3 444.2 656.3 449.9 654.2 455.6 C652.0 461.4 650.0 467.2 647.6 472.8 C645.1 478.4 642.5 483.9 639.6 489.2 C636.6 494.6 633.3 500.2 629.8 504.8 C626.2 509.5 622.0 513.1 618.0 517.1 C614.0 521.2 610.1 525.2 605.7 529.0 C601.2 532.8 593.8 538.0 591.4 539.8" stroke="#a6a6a6" stroke-width="1.3" opacity="0.8"/>
<path d="M720.0 378.3 C717.1 379.3 708.0 381.7 702.5 384.1 C697.1 386.6 691.7 389.6 687.0 393.1 C682.2 396.6 677.3 400.4 673.8 405.1 C670.4 409.8 668.4 415.8 666.3 421.5 C664.2 427.1 663.1 433.2 661.2 439.0 C659.4 444.8 657.5 450.6 655.5 456.3 C653.4 462.0 651.4 467.8 649.0 473.4 C646.5 479.0 643.9 484.4 640.9 489.7 C637.9 495.0 634.5 500.5 630.8 505.1 C627.1 509.8 620.9 515.4 619.0 517.5" stroke="#7e7e7e" stroke-width="2.0" opacity="0.8"/>
<path d="M702.8 384.6 C700.2 386.1 692.1 390.2 687.4 393.7 C682.7 397.3 677.9 401.2 674.6 405.9 C671.2 410.6 669.3 416.5 667.2 422.1 C665.0 427.7 663.6 433.6 661.7 439.3 C659.8 445.1 657.8 450.7 655.8 456.4 C653.7 462.1 651.7 468.0 649.4 473.6 C647.2 479.2 644.8 484.7 642.0 490.1 C639.3 495.4 636.2 501.0 632.8 505.7 C629.4 510.4 625.5 514.3 621.7 518.4 C617.8 522.5 614.0 526.6 609.6 530.3 C605.1 534.1 600.1 537.5 595.1 541.1 C590.1 544.7 582.1 550.1 579.5 551.9" stroke="#bcbcbc" stroke-width="2.0" opacity="0.8"/>
<path d="M703.0 385.0 C700.4 386.5 692.3 390.4 687.5 393.9 C682.7 397.3 677.7 400.9 674.3 405.6 C670.9 410.3 668.8 416.2 666.9 421.9 C665.0 427.6 664.1 434.0 662.7 439.9 C661.2 445.9 659.8 451.8 658.1 457.6 C656.5 463.5 654.8 469.3 652.6 474.9 C650.4 480.4 648.0 485.8 644.8 491.0 C641.7 496.2 637.8 501.5 633.8 506.0 C629.8 510.5 625.0 514.1 620.7 518.0 C616.4 522.0 612.1 525.9 607.8 529.7 C603.5 533.6 599.0 537.1 594.8 541.0 C590.5 544.8 586.4 548.7 582.2 552.8 C578.0 556.9 573.3 560.9 569.6 565.5 C565.8 570.2 562.8 575.3 559.8 580.6 C556.9 586.0 553.2 594.6 551.9 597.4" stroke="#9e9e9e" stroke-width="2.0" opacity="0.8"/>
<path d="M675.2 406.6 C673.9 409.2 669.3 416.6 667.0 422.0 C664.7 427.4 663.3 433.4 661.6 439.3 C660.0 445.1 658.4 451.1 657.0 457.0 C655.5 463.0 654.3 469.1 652.7 474.9 C651.1 480.7 649.7 486.5 647.3 491.9 C644.9 497.3 641.8 502.7 638.2 507.4 C634.6 512.0 630.3 515.8 625.8 519.7 C621.2 523.7 616.2 527.3 610.9 530.8 C605.7 534.3 599.7 537.4 594.5 540.9 C589.3 544.4 582.1 550.1 579.6 551.9" stroke="#b4b4b4" stroke-width="1.0" opacity="0.8"/>
<path d="M667.5 422.3 C666.7 425.3 664.3 434.1 662.9 440.1 C661.5 446.0 660.3 452.1 658.9 458.1 C657.6 464.0 656.5 470.1 654.8 475.8 C653.2 481.5 651.6 487.2 648.9 492.4 C646.3 497.7 642.7 503.0 638.8 507.5 C634.9 512.1 630.2 515.8 625.6 519.7 C620.9 523.6 615.9 527.2 610.9 530.8 C606.0 534.4 600.6 537.7 595.9 541.4 C591.2 545.1 586.8 548.9 582.8 553.0 C578.8 557.1 573.5 564.0 571.7 566.1" stroke="#747474" stroke-width="1.0" opacity="0.8"/>
<path d="M676.0 407.4 C674.7 410.0 670.3 417.5 668.2 423.0 C666.1 428.5 665.0 434.6 663.5 440.5 C662.0 446.4 660.8 452.4 659.4 458.3 C658.1 464.2 657.1 470.3 655.5 476.1 C654.0 481.8 652.6 487.5 650.1 492.9 C647.7 498.2 644.3 503.5 640.6 508.1 C636.9 512.7 632.5 516.5 627.9 520.5 C623.3 524.4 615.7 529.8 613.3 531.6" stroke="#c2c2c2" stroke-width="1.0" opacity="0.8"/>
<path d="M703.8 386.7 C701.4 388.3 693.7 392.8 689.3 396.4 C684.9 400.1 680.4 404.1 677.2 408.8 C674.1 413.5 672.3 419.1 670.2 424.5 C668.1 429.9 666.5 435.6 664.7 441.2 C663.0 446.9 661.1 452.6 659.5 458.3 C657.8 464.1 656.3 470.0 654.6 475.7 C653.0 481.4 651.6 487.2 649.4 492.6 C647.2 498.0 644.5 503.5 641.5 508.3 C638.4 513.1 635.0 517.4 631.2 521.6 C627.3 525.7 623.1 529.7 618.4 533.4 C613.6 537.1 607.8 540.1 602.5 543.6 C597.2 547.1 591.6 550.4 586.6 554.2 C581.6 558.0 576.2 561.8 572.4 566.4 C568.7 571.0 566.3 576.3 564.2 581.7 C562.1 587.2 561.4 593.4 559.9 599.1 C558.3 604.7 555.7 612.9 554.8 615.7" stroke="#6a6a6a" stroke-width="1.6" opacity="0.8"/>
<path d="M670.6 424.8 C669.7 427.6 667.0 435.9 665.3 441.6 C663.6 447.2 661.9 453.0 660.4 458.8 C658.8 464.6 657.6 470.5 656.1 476.3 C654.5 482.0 653.4 487.8 651.3 493.3 C649.2 498.7 646.4 504.1 643.3 508.9 C640.2 513.7 636.8 517.9 632.8 522.1 C628.8 526.2 624.4 530.1 619.5 533.8 C614.6 537.4 608.7 540.4 603.4 543.9 C598.1 547.4 592.7 550.8 587.9 554.7 C583.1 558.5 578.0 562.4 574.5 567.0 C571.1 571.6 568.3 579.9 567.0 582.4" stroke="#a6a6a6" stroke-width="1.6" opacity="0.8"/>
<path d="M720.7 381.1 C717.9 382.1 709.3 384.8 704.2 387.5 C699.0 390.1 694.1 393.3 689.6 396.9 C685.2 400.5 680.5 404.2 677.3 408.8 C674.2 413.5 672.5 419.3 670.8 424.9 C669.0 430.6 668.2 436.8 667.0 442.7 C665.8 448.6 664.8 454.5 663.5 460.4 C662.2 466.2 661.0 472.0 659.3 477.6 C657.6 483.2 656.0 488.7 653.3 493.9 C650.6 499.1 646.8 504.2 643.0 508.8 C639.3 513.4 634.9 517.3 630.7 521.4 C626.5 525.4 619.8 531.2 617.6 533.2" stroke="#7e7e7e" stroke-width="1.3" opacity="0.8"/>
<path d="M704.3 387.7 C701.9 389.3 694.3 393.6 689.9 397.3 C685.6 401.0 681.0 404.9 678.2 409.8 C675.3 414.6 674.1 420.7 672.6 426.4 C671.1 432.1 670.2 438.1 668.9 443.9 C667.6 449.6 666.2 455.3 664.6 460.9 C663.0 466.6 661.4 472.2 659.4 477.7 C657.4 483.1 655.5 488.6 652.7 493.7 C650.0 498.9 646.3 504.1 642.8 508.7 C639.4 513.4 633.9 519.7 632.1 521.8" stroke="#bcbcbc" stroke-width="2.4" opacity="0.8"/>
<path d="M672.2 426.1 C671.6 429.0 669.8 437.8 668.6 443.7 C667.5 449.6 666.5 455.5 665.3 461.3 C664.1 467.1 663.0 472.9 661.4 478.5 C659.8 484.1 658.4 489.6 655.9 494.8 C653.3 500.0 649.6 505.0 645.9 509.7 C642.3 514.3 638.1 518.4 634.0 522.5 C629.9 526.6 625.5 530.6 621.2 534.4 C616.8 538.2 612.1 541.6 607.9 545.5 C603.8 549.3 600.0 553.2 596.2 557.4 C592.5 561.5 588.6 565.6 585.4 570.2 C582.2 574.8 579.6 579.8 577.0 585.0 C574.4 590.1 572.5 595.9 569.8 601.1 C567.0 606.4 562.0 613.9 560.5 616.5" stroke="#9e9e9e" stroke-width="1.3" opacity="0.8"/>
<path d="M679.9 411.6 C678.9 414.3 675.9 422.2 674.2 427.6 C672.4 433.0 670.8 438.5 669.2 444.0 C667.5 449.6 665.8 455.1 664.3 460.8 C662.7 466.4 661.3 472.2 659.8 477.8 C658.3 483.4 657.2 489.2 655.3 494.6 C653.3 500.0 650.6 505.3 647.9 510.2 C645.2 515.2 642.4 519.8 639.0 524.2 C635.6 528.6 631.9 532.8 627.4 536.6 C623.0 540.4 614.9 545.2 612.4 547.0" stroke="#b4b4b4" stroke-width="2.0" opacity="0.8"/>
<path d="M705.0 389.2 C702.7 390.9 695.5 395.5 691.3 399.2 C687.0 402.9 682.7 406.8 679.7 411.5 C676.8 416.1 675.3 421.7 673.5 427.1 C671.8 432.6 670.6 438.4 669.3 444.2 C668.1 449.9 667.0 455.8 665.9 461.6 C664.7 467.4 663.9 473.3 662.7 479.0 C661.5 484.7 660.7 490.5 658.7 495.8 C656.6 501.1 653.4 506.2 650.2 510.9 C647.0 515.7 643.4 520.1 639.3 524.3 C635.3 528.5 630.7 532.4 626.0 536.1 C621.3 539.8 615.7 542.9 611.0 546.5 C606.3 550.2 601.8 553.9 597.8 557.9 C593.7 561.9 588.6 568.5 586.8 570.6" stroke="#747474" stroke-width="1.3" opacity="0.8"/>
<path d="M705.1 389.4 C702.8 391.1 695.6 395.7 691.5 399.6 C687.5 403.5 683.4 407.8 680.9 412.7 C678.3 417.6 677.7 423.7 676.2 429.2 C674.7 434.7 673.3 440.2 671.8 445.7 C670.2 451.2 668.6 456.6 666.9 462.1 C665.3 467.6 663.6 473.2 661.9 478.7 C660.3 484.2 659.0 489.8 656.8 495.2 C654.7 500.5 651.8 505.7 649.2 510.6 C646.5 515.6 644.0 520.3 640.9 524.8 C637.9 529.3 634.8 533.8 630.9 537.8 C627.1 541.8 622.3 545.1 617.6 548.8 C613.0 552.4 605.5 557.8 603.1 559.6" stroke="#c2c2c2" stroke-width="1.3" opacity="0.8"/>
<path d="M676.9 429.8 C676.3 432.6 674.4 441.0 673.0 446.5 C671.6 452.0 670.0 457.4 668.4 462.9 C666.8 468.4 665.2 473.9 663.4 479.3 C661.7 484.7 660.3 490.3 658.0 495.6 C655.7 500.8 652.6 505.9 649.9 510.8 C647.1 515.7 644.5 520.5 641.5 525.0 C638.6 529.6 635.7 534.1 632.0 538.2 C628.4 542.2 624.0 545.7 619.7 549.5 C615.3 553.2 608.3 558.7 606.1 560.6" stroke="#6a6a6a" stroke-width="2.0" opacity="0.8"/>
<path d="M677.5 430.2 C676.8 432.9 674.6 441.1 673.1 446.5 C671.6 452.0 669.9 457.4 668.4 462.9 C666.8 468.4 665.3 473.9 663.9 479.5 C662.4 485.0 661.5 490.7 659.6 496.1 C657.7 501.5 655.0 506.6 652.5 511.6 C650.0 516.6 647.8 521.5 644.8 526.1 C641.8 530.7 636.4 536.9 634.7 539.1" stroke="#a6a6a6" stroke-width="2.0" opacity="0.8"/>
<path d="M721.4 383.8 C718.8 384.9 710.5 387.9 705.8 390.8 C701.0 393.7 696.7 397.4 692.7 401.3 C688.8 405.2 684.8 409.4 682.2 414.2 C679.6 418.9 678.7 424.6 677.1 429.9 C675.5 435.3 674.1 440.8 672.8 446.3 C671.4 451.8 670.1 457.5 668.9 463.1 C667.8 468.8 666.8 474.6 665.8 480.3 C664.7 485.9 664.4 491.8 662.7 497.2 C661.0 502.5 658.3 507.6 655.7 512.6 C653.0 517.5 648.4 524.4 646.9 526.8" stroke="#7e7e7e" stroke-width="2.4" opacity="0.8"/>
<path d="M705.9 391.1 C703.8 392.9 696.9 397.8 693.1 401.8 C689.3 405.8 685.4 410.1 683.0 415.0 C680.6 419.9 680.1 425.7 678.6 431.1 C677.2 436.5 675.7 441.8 674.2 447.2 C672.8 452.7 671.3 458.1 669.9 463.6 C668.5 469.2 667.3 474.8 666.1 480.4 C664.9 486.0 664.3 491.8 662.7 497.2 C661.0 502.5 658.4 507.6 656.0 512.7 C653.7 517.7 651.5 522.8 648.5 527.4 C645.5 532.0 642.2 536.3 638.0 540.2 C633.9 544.2 628.5 547.3 623.7 550.8 C618.8 554.4 613.6 557.8 608.9 561.5 C604.1 565.2 599.0 568.8 595.2 573.1 C591.4 577.4 588.5 582.2 586.2 587.2 C583.9 592.3 582.1 600.8 581.3 603.5" stroke="#bcbcbc" stroke-width="1.6" opacity="0.8"/>
<path d="M678.4 431.0 C678.0 433.8 676.6 442.5 675.7 448.2 C674.8 453.9 674.1 459.6 673.1 465.2 C672.0 470.9 671.0 476.4 669.7 481.9 C668.4 487.4 667.6 492.9 665.3 498.1 C663.0 503.2 659.3 508.0 656.2 512.7 C653.0 517.5 649.7 522.2 646.3 526.6 C642.8 531.1 639.2 535.3 635.5 539.4 C631.7 543.4 627.4 546.9 623.7 550.8 C619.9 554.7 616.5 558.7 612.9 562.8 C609.4 566.9 605.7 570.9 602.4 575.2 C599.1 579.6 595.9 584.1 593.0 589.0 C590.1 593.8 588.0 599.3 584.9 604.2 C581.9 609.2 576.3 616.2 574.6 618.6" stroke="#9e9e9e" stroke-width="1.6" opacity="0.8"/>
<path d="M721.7 384.8 C719.1 386.0 711.0 388.9 706.2 391.8 C701.5 394.7 697.2 398.2 693.3 402.2 C689.5 406.1 685.5 410.3 683.2 415.2 C681.0 420.2 680.8 426.3 679.8 432.0 C678.7 437.6 678.1 443.5 677.2 449.1 C676.2 454.7 675.3 460.3 674.2 465.8 C673.0 471.3 671.8 476.7 670.4 482.1 C668.9 487.5 667.9 493.0 665.6 498.2 C663.3 503.3 659.6 508.0 656.6 512.9 C653.7 517.7 650.8 522.5 647.7 527.1 C644.6 531.6 641.5 536.1 638.0 540.3 C634.6 544.4 628.8 550.0 627.0 552.0" stroke="#b4b4b4" stroke-width="1.3" opacity="0.8"/>
<path d="M680.3 432.4 C679.9 435.2 678.8 443.9 677.8 449.5 C676.8 455.1 675.6 460.5 674.6 466.0 C673.5 471.5 672.5 477.1 671.3 482.5 C670.1 488.0 669.4 493.6 667.2 498.7 C665.0 503.9 661.3 508.5 658.3 513.4 C655.3 518.2 652.4 523.0 649.3 527.6 C646.1 532.2 641.0 538.5 639.4 540.7" stroke="#747474" stroke-width="1.6" opacity="0.8"/>
<path d="M706.6 392.6 C704.5 394.3 697.9 399.3 694.1 403.3 C690.4 407.3 686.7 411.6 684.4 416.5 C682.0 421.3 681.5 427.0 680.3 432.4 C679.0 437.8 678.0 443.4 677.1 449.0 C676.1 454.6 675.5 460.4 674.5 466.0 C673.6 471.6 672.4 477.0 671.3 482.5 C670.2 488.0 669.7 493.7 667.9 498.9 C666.1 504.2 662.9 509.0 660.4 514.0 C657.8 518.9 653.8 526.2 652.5 528.7" stroke="#c2c2c2" stroke-width="1.0" opacity="0.8"/>
<path d="M684.5 416.6 C683.9 419.3 682.1 427.5 681.0 433.0 C679.9 438.4 678.9 444.0 677.8 449.5 C676.7 455.0 675.6 460.5 674.6 466.0 C673.5 471.5 672.4 477.0 671.3 482.5 C670.2 488.0 669.7 493.7 667.9 498.9 C666.1 504.2 662.9 509.0 660.4 514.0 C657.8 518.9 655.5 524.0 652.5 528.7 C649.5 533.3 646.3 537.8 642.5 541.8 C638.8 545.9 634.0 549.2 629.9 552.9 C625.7 556.7 619.5 562.4 617.5 564.3" stroke="#6a6a6a" stroke-width="1.0" opacity="0.8"/>
<path d="M633.0 466.9 C631.6 469.7 627.6 478.5 624.3 484.0 C620.9 489.5 617.6 495.5 612.8 499.8 C608.1 504.1 601.7 506.5 595.7 509.7 C589.8 512.9 583.4 515.9 577.1 519.0 C570.8 522.2 564.1 525.1 558.0 528.5 C551.9 531.8 545.8 535.2 540.4 539.2 C535.1 543.3 528.4 550.4 526.0 552.7" stroke="#1c1c1c" stroke-width="0.7"/>
<path d="M639.7 448.3 C638.6 451.4 635.7 461.0 633.3 467.0 C630.8 473.0 628.0 478.6 624.8 484.2 C621.7 489.7 618.8 495.8 614.5 500.3 C610.3 504.7 604.7 507.5 599.3 510.9 C594.0 514.3 585.2 519.2 582.4 520.9" stroke="#1c1c1c" stroke-width="1.1"/>
<path d="M671.8 425.8 C671.3 428.7 669.6 437.7 668.4 443.6 C667.3 449.5 666.3 455.4 665.0 461.2 C663.8 466.9 662.6 472.7 660.9 478.3 C659.2 483.8 657.7 489.3 655.0 494.5 C652.3 499.7 648.5 504.7 644.7 509.3 C640.9 513.8 636.6 517.9 632.3 521.9 C628.0 526.0 621.1 531.6 618.9 533.6" stroke="#1c1c1c" stroke-width="0.7"/>
<path d="M674.0 447.1 C673.6 450.0 672.3 458.7 671.4 464.4 C670.4 470.1 669.5 475.8 668.3 481.3 C667.1 486.8 666.3 492.5 664.0 497.6 C661.8 502.8 658.2 507.6 654.8 512.3 C651.5 517.0 645.9 523.6 644.1 525.9" stroke="#1c1c1c" stroke-width="0.7"/>
<path d="M640.4 448.6 C639.1 451.6 635.9 461.0 632.7 466.7 C629.5 472.5 625.5 477.7 621.3 483.0 C617.2 488.2 610.0 495.7 607.7 498.2" stroke="#1c1c1c" stroke-width="1.1"/>
<path d="M670.4 401.4 C668.7 403.9 662.8 411.0 659.9 416.5 C657.1 421.9 655.4 428.1 653.3 434.0 C651.2 440.0 648.3 449.1 647.3 452.1" stroke="#1c1c1c" stroke-width="0.9"/>
<path d="M643.9 490.7 C642.1 493.2 637.0 501.3 633.1 505.8 C629.2 510.4 624.7 514.0 620.6 518.0 C616.5 522.0 612.5 526.0 608.4 529.9 C604.2 533.8 597.9 539.4 595.8 541.3" stroke="#1c1c1c" stroke-width="0.9"/>
<path d="M671.0 402.0 C669.6 404.8 664.7 412.7 662.5 418.4 C660.2 424.2 659.2 430.6 657.4 436.6 C655.7 442.6 653.9 448.6 651.8 454.4 C649.7 460.3 647.7 466.2 645.0 471.8 C642.4 477.4 639.2 482.7 635.7 487.9 C632.1 493.1 625.7 500.5 623.7 503.0" stroke="#1c1c1c" stroke-width="0.7"/>
<path d="M665.8 480.3 C664.9 482.9 662.9 491.2 660.3 496.4 C657.8 501.5 654.0 506.4 650.5 511.0 C647.0 515.7 643.2 520.0 639.4 524.3 C635.5 528.5 631.5 532.6 627.4 536.5 C623.3 540.5 618.8 543.9 614.8 547.8 C610.9 551.7 605.7 557.8 603.8 559.8" stroke="#1c1c1c" stroke-width="0.9"/>
</g></g>
<path d="M628.9 731.9 L636.0 744.0 L643.7 754.1 L654.1 746.7 L649.6 730.4 Z" fill="#C6CACC" stroke="#141414" stroke-width="1.7" stroke-linejoin="round" />
<path d="M643.7 754.1 L651.0 764.0 L660.0 771.9 L663.0 764.4 L654.1 746.7 Z" fill="#8e8e8e" stroke="#141414" stroke-width="1.7" stroke-linejoin="round" />
<path d="M643.7 640.0 C637.6 644.9 636.2 665.2 632.0 678.0 C627.8 690.8 620.2 708.8 618.5 717.0 C616.8 725.2 620.3 724.5 622.0 727.0 C623.7 729.5 624.3 731.3 628.9 731.9 C633.5 732.5 644.8 737.4 649.6 730.4 C654.5 723.4 654.8 703.6 658.0 690.0 C661.2 676.4 671.3 657.2 668.9 648.9 C666.5 640.6 649.9 635.1 643.7 640.0 Z" fill="#fff" stroke="#141414" stroke-width="1.7" stroke-linejoin="round"/>
<path d="M991.4 738.9 L987.2 756.9 L1019.2 751.4 L1008.0 736.1 Z" fill="#BEC2C4" stroke="#141414" stroke-width="1.7" stroke-linejoin="round" />
<path d="M987.2 756.9 C984.7 758.6 987.1 761.1 988.0 763.0 C988.9 764.9 989.5 766.9 992.8 768.0 C996.1 769.1 1002.9 769.2 1008.0 769.4 C1013.1 769.6 1019.8 770.5 1023.3 769.4 C1026.8 768.2 1028.6 764.7 1028.9 762.5 C1029.2 760.3 1026.6 757.9 1025.0 756.0 C1023.4 754.1 1022.9 751.9 1019.2 751.4 C1015.5 750.9 1008.3 752.1 1003.0 753.0 C997.7 753.9 989.7 755.2 987.2 756.9 Z" fill="#9b9c9b" stroke="#141414" stroke-width="1.7" stroke-linejoin="round" />
<ellipse cx="1009" cy="762" rx="7" ry="4" fill="#777" opacity="0.8" filter="url(#b2)"/>
<ellipse cx="1232" cy="690" rx="8" ry="5" fill="#777" opacity="0.7" filter="url(#b2)" transform="rotate(20 1232 690)"/>
<path d="M994.2 650.0 C988.9 653.5 988.5 668.7 986.0 678.0 C983.5 687.3 980.3 698.7 978.9 705.6 C977.5 712.5 976.8 715.3 977.5 719.4 C978.2 723.5 980.7 726.8 983.0 730.0 C985.3 733.2 987.2 737.9 991.4 738.9 C995.6 739.9 1005.4 739.6 1008.0 736.1 C1010.6 732.6 1007.0 724.0 1007.0 718.0 C1007.0 712.0 1007.3 706.3 1008.0 700.0 C1008.7 693.7 1009.4 687.2 1011.0 680.0 C1012.6 672.8 1020.6 661.9 1017.8 656.9 C1015.0 651.9 999.5 646.5 994.2 650.0 Z" fill="#fff" stroke="#141414" stroke-width="1.7" stroke-linejoin="round"/>
<path d="M1264.2 341 Q1270 336.5 1278.5 343.5 Q1277 349.5 1271 349 Q1266 347 1264.2 341Z" fill="#2a2a2a" stroke="#141414" stroke-width="1"/>
<path d="M1262.5 339.5 Q1270 334 1279.5 342.5" fill="none" stroke="#141414" stroke-width="0.9"/>
<ellipse cx="1280.7" cy="424.2" rx="5.6" ry="4" fill="#1e1e1e" transform="rotate(-30 1280.7 424.2)"/>
<path d="M1255 421 Q1262 424 1263 436" fill="none" stroke="#141414" stroke-width="0.9"/>
<path d="M1214.5 343 Q1213 352 1218 362" fill="none" stroke="#141414" stroke-width="0.9"/>
<path d="M1280 296 L1299.5 277.5 L1302 281 L1291 293.5 Z" fill="#dcdee0" stroke="#141414" stroke-width="0.9" stroke-linejoin="round"/>
<g><path d="M1013.0 352.8 L1019.5 345.2 L1026.6 339.4 L1034.4 336.1 L1042.2 330.1 L1050.0 325.5 L1058.5 323.4 L1066.9 318.7 L1075.4 315.3 L1083.5 312.5 L1091.6 307.0 L1099.7 302.9 L1107.9 300.2 L1116.6 296.1 L1125.3 293.3 L1133.9 291.8 L1142.6 287.9 L1151.5 285.9 L1160.4 285.2 L1169.3 282.0 L1178.2 280.1 L1187.3 281.2 L1196.4 279.6 L1205.6 279.4 L1214.7 280.5 L1223.7 279.3 L1232.6 281.2 L1241.5 284.5 L1250.4 285.2 L1259.3 287.2 L1260.0 291.0 L1256.3 298.3 L1254.4 299.0 L1252.1 298.6 L1249.8 298.4 L1247.7 298.7 L1246.4 300.9 L1245.6 304.2 L1245.1 308.4 L1242.1 306.4 L1241.7 311.0 L1240.0 312.2 L1237.0 310.2 L1234.3 308.8 L1231.5 307.4 L1230.1 309.3 L1228.5 310.8 L1227.3 313.2 L1224.2 311.0 L1223.2 314.0 L1220.7 313.6 L1218.0 312.5 L1214.8 310.1 L1212.6 310.4 L1211.1 312.3 L1209.6 314.3 L1208.0 316.0 L1205.3 315.1 L1204.3 318.2 L1201.9 317.7 L1199.2 316.7 L1196.2 314.7 L1193.7 314.1 L1192.0 315.3 L1190.8 318.1 L1189.2 319.5 L1186.3 317.8 L1185.4 321.3 L1182.4 319.3 L1179.7 318.2 L1176.8 316.7 L1174.7 317.0 L1172.9 318.2 L1171.7 320.9 L1170.0 322.4 L1167.0 320.4 L1166.1 323.8 L1163.5 322.9 L1160.9 322.1 L1158.0 320.5 L1155.6 320.3 L1154.0 322.0 L1152.9 324.7 L1151.3 326.7 L1148.3 324.7 L1147.3 327.8 L1144.4 326.3 L1142.1 326.4 L1139.4 325.2 L1136.9 324.7 L1135.3 326.6 L1134.1 329.5 L1132.5 331.1 L1129.8 330.1 L1128.9 333.6 L1126.2 332.7 L1123.4 331.6 L1121.1 331.4 L1118.7 331.2 L1116.8 332.2 L1115.9 336.0 L1114.3 337.7 L1111.1 335.5 L1110.5 339.6 L1108.2 339.7 L1105.7 339.1 L1102.4 336.6 L1100.2 337.0 L1098.5 338.6 L1097.7 342.2 L1096.1 344.0 L1093.3 342.8 L1092.6 346.9 L1089.8 345.7 L1087.5 345.6 L1084.3 343.4 L1081.7 342.7 L1080.6 345.6 L1079.0 347.3 L1077.6 349.6 L1074.6 347.8 L1073.9 351.7 L1071.1 350.4 L1068.3 349.2 L1065.9 348.8 L1063.0 347.4 L1062.0 350.4 L1060.6 352.8 L1058.9 354.2 L1055.8 352.2 L1055.0 355.9 L1052.5 355.4 L1049.8 354.3 L1046.9 352.7 L1044.4 352.2 L1043.1 354.7 L1041.6 356.5 L1040.1 358.5 L1037.1 356.8 L1036.0 359.7 L1033.5 359.1 L1031.2 359.0 L1028.0 356.5 L1025.4 355.5 L1023.6 356.3 L1022.5 358.9 L1021.1 360.7 L1017.6 357.3 L1017.0 361.4 L1014.4 360.2 L1011.4 357.9 Z" fill="#9a9a9a" stroke="#111" stroke-width="1.5" stroke-linejoin="round"/>
<g fill="none" stroke-linecap="round">
<path d="M1013.9 352.0 Q1013.4 355.0 1012.1 356.4" stroke="#a6a6a6" stroke-width="1.1" opacity="0.85"/>
<path d="M1015.2 350.7 Q1013.9 354.0 1012.7 355.6" stroke="#bababa" stroke-width="0.7" opacity="0.85"/>
<path d="M1015.9 350.4 Q1014.4 353.2 1013.6 354.3" stroke="#6c6c6c" stroke-width="1.4" opacity="0.85"/>
<path d="M1018.4 347.3 Q1014.8 352.4 1012.8 355.9" stroke="#dedede" stroke-width="0.9" opacity="0.85"/>
<path d="M1019.7 346.0 Q1016.9 351.2 1013.7 354.7" stroke="#5e5e5e" stroke-width="1.1" opacity="0.85"/>
<path d="M1019.8 346.5 Q1018.1 350.6 1015.0 353.1" stroke="#d6d6d6" stroke-width="0.9" opacity="0.85"/>
<path d="M1022.9 343.4 Q1020.5 349.2 1016.6 353.3" stroke="#747474" stroke-width="0.9" opacity="0.85"/>
<path d="M1024.8 342.5 Q1021.4 349.8 1017.2 355.4" stroke="#cfcfcf" stroke-width="0.7" opacity="0.85"/>
<path d="M1027.3 340.5 Q1023.5 347.6 1020.4 353.2" stroke="#808080" stroke-width="0.9" opacity="0.85"/>
<path d="M1028.4 341.1 Q1023.9 349.4 1020.9 356.1" stroke="#c6c6c6" stroke-width="1.1" opacity="0.85"/>
<path d="M1029.6 341.8 Q1027.4 347.7 1024.9 352.0" stroke="#a6a6a6" stroke-width="1.1" opacity="0.85"/>
<path d="M1032.8 338.0 Q1030.1 345.3 1027.3 351.0" stroke="#bababa" stroke-width="0.9" opacity="0.85"/>
<path d="M1034.5 337.5 Q1031.1 347.4 1027.3 355.7" stroke="#6c6c6c" stroke-width="1.1" opacity="0.85"/>
<path d="M1036.4 336.7 Q1031.9 346.9 1029.5 355.5" stroke="#dedede" stroke-width="1.1" opacity="0.85"/>
<path d="M1037.8 337.3 Q1035.3 345.5 1032.7 352.1" stroke="#5e5e5e" stroke-width="1.1" opacity="0.85"/>
<path d="M1040.0 335.5 Q1036.6 345.1 1034.2 353.2" stroke="#d6d6d6" stroke-width="1.4" opacity="0.85"/>
<path d="M1042.8 331.6 Q1039.1 342.0 1036.8 350.8" stroke="#747474" stroke-width="1.4" opacity="0.85"/>
<path d="M1042.9 336.7 Q1041.5 346.2 1037.7 354.1" stroke="#cfcfcf" stroke-width="1.4" opacity="0.85"/>
<path d="M1045.6 333.1 Q1043.1 344.6 1039.5 354.4" stroke="#808080" stroke-width="0.7" opacity="0.85"/>
<path d="M1047.2 333.4 Q1045.0 343.8 1041.9 352.7" stroke="#c6c6c6" stroke-width="1.1" opacity="0.85"/>
<path d="M1049.6 331.1 Q1047.6 342.6 1043.9 352.6" stroke="#a6a6a6" stroke-width="1.1" opacity="0.85"/>
<path d="M1052.5 327.1 Q1048.9 337.5 1047.5 346.3" stroke="#bababa" stroke-width="0.9" opacity="0.85"/>
<path d="M1053.0 332.2 Q1050.7 342.8 1048.1 351.7" stroke="#6c6c6c" stroke-width="0.7" opacity="0.85"/>
<path d="M1055.9 328.3 Q1053.9 337.0 1052.0 344.1" stroke="#dedede" stroke-width="0.9" opacity="0.85"/>
<path d="M1057.6 328.9 Q1055.2 338.9 1053.1 347.2" stroke="#5e5e5e" stroke-width="0.7" opacity="0.85"/>
<path d="M1060.3 325.7 Q1058.9 335.7 1055.8 344.1" stroke="#d6d6d6" stroke-width="1.4" opacity="0.85"/>
<path d="M1061.5 328.6 Q1059.2 336.0 1058.3 341.7" stroke="#747474" stroke-width="0.7" opacity="0.85"/>
<path d="M1064.1 325.6 Q1060.6 337.8 1058.7 348.4" stroke="#cfcfcf" stroke-width="1.1" opacity="0.85"/>
<path d="M1065.4 328.0 Q1063.9 338.7 1060.8 347.8" stroke="#808080" stroke-width="0.7" opacity="0.85"/>
<path d="M1068.3 323.7 Q1065.6 335.1 1063.4 344.9" stroke="#c6c6c6" stroke-width="1.1" opacity="0.85"/>
<path d="M1070.8 321.0 Q1068.2 333.7 1065.4 344.9" stroke="#a6a6a6" stroke-width="0.7" opacity="0.85"/>
<path d="M1072.4 322.1 Q1068.6 334.8 1067.1 345.9" stroke="#bababa" stroke-width="0.7" opacity="0.85"/>
<path d="M1073.9 323.8 Q1071.3 331.7 1070.8 338.0" stroke="#6c6c6c" stroke-width="1.4" opacity="0.85"/>
<path d="M1075.6 324.7 Q1072.4 336.0 1071.1 345.7" stroke="#dedede" stroke-width="1.4" opacity="0.85"/>
<path d="M1078.8 318.1 Q1076.2 329.6 1074.4 339.5" stroke="#5e5e5e" stroke-width="1.4" opacity="0.85"/>
<path d="M1080.3 319.5 Q1077.6 330.3 1076.3 339.4" stroke="#d6d6d6" stroke-width="1.1" opacity="0.85"/>
<path d="M1082.6 317.2 Q1079.5 327.5 1078.9 336.3" stroke="#747474" stroke-width="1.4" opacity="0.85"/>
<path d="M1083.9 319.6 Q1080.9 330.8 1080.1 340.4" stroke="#cfcfcf" stroke-width="1.4" opacity="0.85"/>
<path d="M1086.3 317.0 Q1083.7 330.4 1081.7 342.2" stroke="#808080" stroke-width="0.7" opacity="0.85"/>
<path d="M1088.2 316.2 Q1086.0 327.7 1084.4 337.6" stroke="#c6c6c6" stroke-width="1.4" opacity="0.85"/>
<path d="M1090.0 316.6 Q1089.4 326.9 1086.7 335.5" stroke="#a6a6a6" stroke-width="1.4" opacity="0.85"/>
<path d="M1092.5 312.8 Q1090.7 324.2 1088.8 334.0" stroke="#bababa" stroke-width="0.7" opacity="0.85"/>
<path d="M1093.9 315.1 Q1091.5 324.8 1090.9 332.9" stroke="#6c6c6c" stroke-width="0.7" opacity="0.85"/>
<path d="M1095.7 315.5 Q1095.1 325.5 1092.6 333.9" stroke="#dedede" stroke-width="1.1" opacity="0.85"/>
<path d="M1099.0 306.6 Q1097.5 322.5 1094.0 336.8" stroke="#5e5e5e" stroke-width="1.4" opacity="0.85"/>
<path d="M1100.1 311.0 Q1098.2 324.5 1095.9 336.5" stroke="#d6d6d6" stroke-width="0.7" opacity="0.85"/>
<path d="M1101.8 311.4 Q1099.9 324.3 1098.0 335.6" stroke="#747474" stroke-width="0.9" opacity="0.85"/>
<path d="M1103.9 310.1 Q1101.6 319.3 1101.3 326.8" stroke="#cfcfcf" stroke-width="0.7" opacity="0.85"/>
<path d="M1106.1 308.2 Q1105.2 319.9 1102.7 330.0" stroke="#808080" stroke-width="1.1" opacity="0.85"/>
<path d="M1107.9 309.3 Q1107.4 318.6 1105.2 326.3" stroke="#c6c6c6" stroke-width="1.4" opacity="0.85"/>
<path d="M1110.0 308.6 Q1108.0 322.8 1105.7 335.5" stroke="#a6a6a6" stroke-width="0.7" opacity="0.85"/>
<path d="M1113.4 299.9 Q1110.7 317.0 1108.1 332.6" stroke="#bababa" stroke-width="0.9" opacity="0.85"/>
<path d="M1115.4 299.9 Q1113.8 316.6 1110.1 331.7" stroke="#6c6c6c" stroke-width="0.7" opacity="0.85"/>
<path d="M1116.7 303.6 Q1113.6 318.8 1111.9 332.4" stroke="#dedede" stroke-width="0.7" opacity="0.85"/>
<path d="M1119.4 299.9 Q1116.8 312.5 1115.4 323.5" stroke="#5e5e5e" stroke-width="1.4" opacity="0.85"/>
<path d="M1121.4 299.3 Q1120.0 314.3 1116.5 327.8" stroke="#d6d6d6" stroke-width="1.4" opacity="0.85"/>
<path d="M1122.3 305.7 Q1120.0 315.9 1119.0 324.4" stroke="#747474" stroke-width="1.4" opacity="0.85"/>
<path d="M1124.6 303.8 Q1122.0 318.1 1119.9 330.7" stroke="#cfcfcf" stroke-width="1.4" opacity="0.85"/>
<path d="M1127.9 296.3 Q1126.4 310.6 1123.1 323.3" stroke="#808080" stroke-width="0.9" opacity="0.85"/>
<path d="M1130.1 295.0 Q1128.3 311.7 1124.4 326.7" stroke="#c6c6c6" stroke-width="1.4" opacity="0.85"/>
<path d="M1131.3 299.2 Q1127.9 314.1 1126.2 327.3" stroke="#a6a6a6" stroke-width="0.9" opacity="0.85"/>
<path d="M1134.3 294.1 Q1132.7 309.2 1129.0 322.6" stroke="#bababa" stroke-width="1.1" opacity="0.85"/>
<path d="M1135.4 298.6 Q1133.0 313.1 1130.3 325.9" stroke="#6c6c6c" stroke-width="1.1" opacity="0.85"/>
<path d="M1137.1 300.1 Q1134.7 310.2 1133.5 318.7" stroke="#dedede" stroke-width="1.4" opacity="0.85"/>
<path d="M1140.5 292.6 Q1137.1 307.7 1135.0 321.1" stroke="#5e5e5e" stroke-width="1.4" opacity="0.85"/>
<path d="M1141.5 297.8 Q1140.9 307.4 1138.0 315.4" stroke="#d6d6d6" stroke-width="1.4" opacity="0.85"/>
<path d="M1143.8 296.5 Q1142.1 306.8 1139.9 315.5" stroke="#747474" stroke-width="0.7" opacity="0.85"/>
<path d="M1146.4 293.9 Q1144.4 308.2 1140.8 320.9" stroke="#cfcfcf" stroke-width="1.4" opacity="0.85"/>
<path d="M1147.9 296.2 Q1144.1 310.0 1142.4 322.1" stroke="#808080" stroke-width="0.9" opacity="0.85"/>
<path d="M1149.8 296.8 Q1148.1 308.6 1145.1 318.8" stroke="#c6c6c6" stroke-width="0.7" opacity="0.85"/>
<path d="M1151.8 297.0 Q1148.6 309.7 1146.7 320.8" stroke="#a6a6a6" stroke-width="0.9" opacity="0.85"/>
<path d="M1154.4 294.8 Q1152.8 304.2 1150.6 312.0" stroke="#bababa" stroke-width="0.7" opacity="0.85"/>
<path d="M1156.2 295.5 Q1155.2 305.0 1152.4 313.0" stroke="#6c6c6c" stroke-width="1.1" opacity="0.85"/>
<path d="M1159.9 288.1 Q1158.2 300.2 1155.0 310.6" stroke="#dedede" stroke-width="0.7" opacity="0.85"/>
<path d="M1162.3 286.7 Q1158.2 303.6 1155.2 318.8" stroke="#5e5e5e" stroke-width="1.1" opacity="0.85"/>
<path d="M1163.7 289.8 Q1160.2 304.3 1157.5 317.3" stroke="#d6d6d6" stroke-width="0.7" opacity="0.85"/>
<path d="M1166.1 288.1 Q1163.2 301.5 1160.4 313.4" stroke="#747474" stroke-width="0.9" opacity="0.85"/>
<path d="M1167.6 290.7 Q1164.6 304.4 1161.7 316.5" stroke="#cfcfcf" stroke-width="0.9" opacity="0.85"/>
<path d="M1169.9 289.3 Q1167.2 299.8 1165.5 308.8" stroke="#808080" stroke-width="1.4" opacity="0.85"/>
<path d="M1173.0 284.6 Q1170.3 301.8 1165.6 317.4" stroke="#c6c6c6" stroke-width="0.7" opacity="0.85"/>
<path d="M1174.3 288.2 Q1171.7 302.3 1168.2 314.9" stroke="#a6a6a6" stroke-width="1.1" opacity="0.85"/>
<path d="M1175.9 290.0 Q1174.1 300.7 1171.4 309.7" stroke="#bababa" stroke-width="1.1" opacity="0.85"/>
<path d="M1179.6 283.5 Q1175.3 301.1 1171.8 317.1" stroke="#6c6c6c" stroke-width="0.7" opacity="0.85"/>
<path d="M1180.5 288.9 Q1176.8 301.1 1175.1 311.7" stroke="#dedede" stroke-width="1.1" opacity="0.85"/>
<path d="M1182.7 288.9 Q1179.1 301.3 1177.1 312.0" stroke="#5e5e5e" stroke-width="0.9" opacity="0.85"/>
<path d="M1186.1 284.0 Q1182.6 300.5 1178.3 315.4" stroke="#d6d6d6" stroke-width="0.7" opacity="0.85"/>
<path d="M1188.4 283.2 Q1185.9 298.1 1181.4 311.4" stroke="#747474" stroke-width="1.4" opacity="0.85"/>
<path d="M1189.6 287.4 Q1186.3 300.5 1183.3 312.0" stroke="#cfcfcf" stroke-width="1.1" opacity="0.85"/>
<path d="M1191.2 289.4 Q1187.3 301.7 1185.2 312.4" stroke="#808080" stroke-width="0.9" opacity="0.85"/>
<path d="M1193.5 289.0 Q1191.3 300.4 1187.9 310.3" stroke="#c6c6c6" stroke-width="1.1" opacity="0.85"/>
<path d="M1197.3 282.9 Q1193.0 295.8 1190.8 307.0" stroke="#a6a6a6" stroke-width="0.9" opacity="0.85"/>
<path d="M1199.7 282.3 Q1195.4 296.6 1192.3 309.4" stroke="#bababa" stroke-width="1.1" opacity="0.85"/>
<path d="M1199.8 289.8 Q1196.3 302.7 1193.1 314.0" stroke="#6c6c6c" stroke-width="0.7" opacity="0.85"/>
<path d="M1203.3 284.9 Q1198.5 299.6 1195.5 312.7" stroke="#dedede" stroke-width="1.1" opacity="0.85"/>
<path d="M1204.9 287.0 Q1201.7 299.6 1198.2 310.7" stroke="#5e5e5e" stroke-width="0.7" opacity="0.85"/>
<path d="M1208.2 283.3 Q1204.8 295.0 1201.8 305.1" stroke="#d6d6d6" stroke-width="1.4" opacity="0.85"/>
<path d="M1208.7 288.8 Q1205.7 300.7 1202.2 310.9" stroke="#747474" stroke-width="0.9" opacity="0.85"/>
<path d="M1210.8 289.1 Q1207.6 300.9 1204.2 311.1" stroke="#cfcfcf" stroke-width="0.9" opacity="0.85"/>
<path d="M1213.8 286.4 Q1210.4 296.2 1208.2 304.5" stroke="#808080" stroke-width="1.1" opacity="0.85"/>
<path d="M1217.4 281.6 Q1213.8 296.8 1208.4 310.3" stroke="#c6c6c6" stroke-width="1.4" opacity="0.85"/>
<path d="M1218.8 283.9 Q1214.1 298.2 1210.2 310.9" stroke="#a6a6a6" stroke-width="1.4" opacity="0.85"/>
<path d="M1219.2 289.4 Q1215.6 299.6 1213.0 308.3" stroke="#bababa" stroke-width="1.4" opacity="0.85"/>
<path d="M1224.0 281.8 Q1220.7 293.3 1216.8 303.1" stroke="#6c6c6c" stroke-width="0.7" opacity="0.85"/>
<path d="M1224.1 288.1 Q1220.7 298.6 1217.3 307.4" stroke="#dedede" stroke-width="1.4" opacity="0.85"/>
<path d="M1227.8 284.0 Q1222.7 296.9 1219.0 308.2" stroke="#5e5e5e" stroke-width="1.4" opacity="0.85"/>
<path d="M1230.3 283.7 Q1226.9 294.3 1222.8 303.3" stroke="#d6d6d6" stroke-width="0.9" opacity="0.85"/>
<path d="M1232.3 284.3 Q1228.0 296.7 1223.2 307.5" stroke="#747474" stroke-width="0.7" opacity="0.85"/>
<path d="M1234.8 284.0 Q1230.4 295.7 1225.9 305.9" stroke="#cfcfcf" stroke-width="1.4" opacity="0.85"/>
<path d="M1235.5 287.9 Q1230.8 299.0 1227.0 308.4" stroke="#808080" stroke-width="1.1" opacity="0.85"/>
<path d="M1237.2 289.4 Q1235.4 296.4 1231.9 301.9" stroke="#c6c6c6" stroke-width="0.7" opacity="0.85"/>
<path d="M1239.3 289.8 Q1235.2 299.1 1231.9 306.8" stroke="#a6a6a6" stroke-width="0.9" opacity="0.85"/>
<path d="M1240.9 291.6 Q1237.1 300.4 1233.6 307.6" stroke="#bababa" stroke-width="0.9" opacity="0.85"/>
<path d="M1244.3 289.1 Q1240.3 296.3 1238.4 301.9" stroke="#6c6c6c" stroke-width="0.7" opacity="0.85"/>
<path d="M1245.4 291.7 Q1241.7 299.8 1238.5 306.3" stroke="#dedede" stroke-width="1.4" opacity="0.85"/>
<path d="M1248.0 291.1 Q1244.4 298.9 1241.2 305.0" stroke="#5e5e5e" stroke-width="1.4" opacity="0.85"/>
<path d="M1251.3 289.0 Q1247.8 297.1 1243.2 303.5" stroke="#d6d6d6" stroke-width="1.4" opacity="0.85"/>
<path d="M1252.9 289.9 Q1247.8 297.0 1244.9 302.5" stroke="#747474" stroke-width="1.1" opacity="0.85"/>
<path d="M1255.2 289.8 Q1251.2 296.2 1247.0 301.0" stroke="#cfcfcf" stroke-width="1.4" opacity="0.85"/>
<path d="M1016.2 350.6 L1011.5 357.9" stroke="#1c1c1c" stroke-width="0.8"/>
<path d="M1032.4 342.7 L1026.5 357.8" stroke="#1c1c1c" stroke-width="0.8"/>
<path d="M1050.1 336.4 L1045.4 354.3" stroke="#1c1c1c" stroke-width="0.8"/>
<path d="M1067.9 334.0 L1064.3 350.0" stroke="#1c1c1c" stroke-width="0.8"/>
<path d="M1087.1 322.7 L1083.0 345.5" stroke="#1c1c1c" stroke-width="0.8"/>
<path d="M1104.7 317.2 L1101.3 339.1" stroke="#1c1c1c" stroke-width="0.8"/>
<path d="M1123.7 308.9 L1119.5 332.7" stroke="#1c1c1c" stroke-width="0.8"/>
<path d="M1142.5 303.0 L1137.8 326.4" stroke="#1c1c1c" stroke-width="0.8"/>
<path d="M1161.7 298.4 L1156.5 321.9" stroke="#1c1c1c" stroke-width="0.8"/>
<path d="M1180.7 297.0 L1175.5 318.6" stroke="#1c1c1c" stroke-width="0.8"/>
<path d="M1200.8 293.8 L1194.6 315.8" stroke="#1c1c1c" stroke-width="0.8"/>
<path d="M1220.7 291.6 L1213.6 312.3" stroke="#1c1c1c" stroke-width="0.8"/>
<path d="M1239.8 293.9 L1232.7 309.7" stroke="#1c1c1c" stroke-width="0.8"/>
</g></g>
<g><path d="M1275.5 295.0 C1276.6 292.6 1280.8 296.1 1283.7 297.9 C1286.6 299.7 1290.5 302.8 1293.0 306.0 C1295.5 309.2 1297.8 312.7 1299.0 317.2 C1300.2 321.7 1301.0 328.9 1300.5 333.0 C1300.0 337.1 1297.7 339.1 1296.0 342.0 C1294.3 344.9 1292.2 350.8 1290.5 350.5 C1288.8 350.2 1287.6 343.9 1286.0 340.0 C1284.4 336.1 1282.5 331.7 1281.0 327.0 C1279.5 322.3 1277.9 317.3 1277.0 312.0 C1276.1 306.7 1274.4 297.4 1275.5 295.0 Z" fill="#a0a0a0" stroke="#141414" stroke-width="1.2"/>
<g fill="none" stroke-linecap="round"><path d="M1277.4 298.1 Q1279.8 320.0 1287.4 342.8" stroke="#666" stroke-width="1.3"/><path d="M1278.1 298.2 Q1281.5 320.0 1288.2 342.4" stroke="#c4c4c4" stroke-width="1"/><path d="M1278.9 298.4 Q1283.2 320.0 1289.1 342.0" stroke="#d8d8d8" stroke-width="1.3"/><path d="M1279.6 298.6 Q1284.8 320.0 1289.9 341.5" stroke="#777" stroke-width="1"/><path d="M1280.4 298.8 Q1286.5 320.0 1290.8 341.1" stroke="#cacaca" stroke-width="1.3"/><path d="M1281.1 298.9 Q1288.2 320.0 1291.6 340.7" stroke="#666" stroke-width="1.3"/><path d="M1281.9 299.1 Q1289.8 320.0 1292.4 340.3" stroke="#c4c4c4" stroke-width="1.3"/><path d="M1282.6 299.2 Q1291.5 320.0 1293.2 339.9" stroke="#d8d8d8" stroke-width="1.3"/><path d="M1283.4 299.4 Q1293.2 320.0 1294.1 339.5" stroke="#777" stroke-width="0.7"/><path d="M1284.1 299.6 Q1294.8 320.0 1294.9 339.0" stroke="#cacaca" stroke-width="1"/><path d="M1284.9 299.8 Q1296.5 320.0 1295.8 338.6" stroke="#666" stroke-width="0.7"/><path d="M1285.6 299.9 Q1298.2 320.0 1296.6 338.2" stroke="#c4c4c4" stroke-width="1.3"/></g></g>
</g>
<path d="M894.6 446.5 L905.7 453.6 L903.0 467.6 L890.1 470.0 L883.9 484.6 L892.3 496.4 L884.0 508.2 L870.1 504.1 L858.2 515.0 L861.0 529.3 L848.6 536.6 L837.6 527.1 L825.5 531.4 L822.3 544.0 L808.3 546.0 L801.8 534.7 L788.0 533.9 L780.1 544.7 L766.3 541.0 L764.9 527.7 L752.1 521.2 L739.5 529.6 L728.1 520.6 L733.3 506.4 L723.8 495.1 L708.6 497.9 L701.8 485.0 L712.5 474.0 L708.6 460.6 L693.6 457.2 L692.3 442.7 L706.5 436.7 L708.1 422.7 L695.4 413.6 L699.9 399.7 L715.6 399.9 L723.6 386.2 L714.1 371.3 L724.1 360.3 L739.8 368.6 L751.4 360.2 L749.8 345.1 L763.0 339.1 L773.2 350.4 L788.3 347.1 L792.9 332.4 L807.5 332.3 L812.2 347.0 L826.4 349.9 L836.4 338.5 L849.8 344.2 L848.4 359.3 L862.6 369.6 L875.9 364.2 L885.5 375.0 L878.5 387.6 L887.6 404.3 L902.4 405.1 L906.3 419.1 L893.9 427.4 Z M755.8 440.6 a45.2 45.2 0 1 0 90.4 0 a45.2 45.2 0 1 0 -90.4 0 Z" fill="#CBCC41" fill-opacity="0.67" fill-rule="evenodd" stroke="#0c0c08" stroke-width="2.2" stroke-linejoin="miter"/>
<circle cx="801.0" cy="440.6" r="76.0" fill="none" stroke="#fff" stroke-width="1.5" opacity="0.97"/>
<path d="M1168.8 402.4 L1186.8 409.0 L1186.5 430.9 L1168.2 436.9 L1163.4 456.7 L1175.7 469.8 L1166.1 489.3 L1148.2 487.7 L1134.3 504.8 L1140.6 523.1 L1123.3 536.6 L1107.1 526.1 L1085.5 536.0 L1082.7 554.3 L1061.3 558.6 L1051.6 542.8 L1033.3 542.5 L1023.0 559.2 L1001.6 554.3 L999.6 534.8 L983.2 527.2 L966.8 538.5 L949.2 525.2 L955.6 506.4 L945.7 495.3 L928.1 498.2 L917.1 479.5 L928.3 465.5 L923.3 451.0 L906.4 446.8 L903.5 425.4 L918.7 416.8 L919.8 400.7 L903.6 389.7 L909.5 368.5 L929.1 367.5 L937.1 352.1 L928.1 336.5 L941.9 319.7 L958.9 325.4 L972.0 314.8 L969.6 296.3 L989.1 286.3 L1002.7 299.1 L1020.3 294.3 L1025.5 275.8 L1047.4 274.6 L1054.7 292.4 L1071.4 295.0 L1084.4 277.4 L1105.3 285.2 L1103.7 307.0 L1118.1 316.1 L1133.1 310.1 L1148.4 324.9 L1143.0 340.1 L1152.7 354.4 L1171.6 353.4 L1179.9 373.7 L1165.8 386.3 Z M966.1 419.2 a78.3 78.3 0 1 0 156.6 0 a78.3 78.3 0 1 0 -156.6 0 Z" fill="#CBCC41" fill-opacity="0.67" fill-rule="evenodd" stroke="#0c0c08" stroke-width="2.2" stroke-linejoin="miter"/>
<circle cx="1044.4" cy="419.2" r="104.7" fill="none" stroke="#fff" stroke-width="1.5" opacity="0.97"/>
<g id="logo" opacity="0.999">
<path d="M1122.0 701.0 L1135.0 701.0 C1134.2 711.0 1131.1 720.4 1127.5 729.9 C1124.8 736.9 1123.2 743.2 1122.8 749.4 L1108.6 749.4 L1112.6 733.4 L1094.1 733.4 L1098.0 718.1 L1117.3 718.1 Z" fill="#A6CD57"/>
<path d="M1137.0 701.9 C1135.4 711.0 1132.6 719.6 1128.7 729.1 C1125.9 736.1 1125.1 742.4 1125.7 748.0 C1130.3 744.8 1133.4 740.1 1135.8 736.1 C1138.9 738.5 1143.6 740.1 1147.2 743.2 L1149.9 741.7 C1146.8 739.3 1145.6 736.9 1147.2 733.0 C1149.5 727.5 1148.4 722.8 1145.6 718.8 C1143.2 715.7 1144.4 711.8 1148.4 709.4 L1151.5 707.4 C1148.4 703.9 1144.4 702.7 1142.5 703.5 Z" fill="#DADBDD"/>
<path d="M1125.7 747.6 C1124.8 740.1 1126.7 733.8 1129.5 726.7 C1132.6 719.6 1135.4 711.0 1136.6 701.5 C1137.3 698.4 1138.9 696.0 1140.7 694.8 C1141.7 697.6 1142.5 700.7 1142.9 702.7 C1144.8 701.1 1147.2 701.1 1149.3 702.7" fill="none" stroke="#7d7f82" stroke-width="1.05" stroke-linecap="round" stroke-linejoin="round"/>
<path d="M1151.1 701.5 C1151.5 698.4 1152.3 696.0 1153.2 694.6 C1155.1 697.6 1155.8 700.7 1155.1 703.9" fill="none" stroke="#7d7f82" stroke-width="1.05" stroke-linecap="round" stroke-linejoin="round"/>
<path d="M1148.8 703.5 C1153.1 704.7 1156.2 711.0 1163.3 713.2" fill="none" stroke="#7d7f82" stroke-width="1.05" stroke-linecap="round" stroke-linejoin="round" stroke-width="0.9"/>
<path d="M1151.5 705.1 C1153.9 707.0 1156.2 709.8 1159.4 711.8" fill="none" stroke="#7d7f82" stroke-width="1.05" stroke-linecap="round" stroke-linejoin="round"/>
<path d="M1135.4 722.0 C1134.2 729.1 1135.8 735.4 1140.5 737.3" fill="none" stroke="#7d7f82" stroke-width="1.05" stroke-linecap="round" stroke-linejoin="round"/>
<path d="M1156.9 731.4 C1159.0 734.6 1159.4 737.7 1157.2 741.5" fill="none" stroke="#7d7f82" stroke-width="1.05" stroke-linecap="round" stroke-linejoin="round"/>
<path d="M1144.8 741.8 C1147.2 746.4 1151.5 748.0 1155.1 745.2" fill="none" stroke="#7d7f82" stroke-width="1.05" stroke-linecap="round" stroke-linejoin="round"/>
<circle cx="1138.5" cy="718.1" r="2" fill="#9A9B9E"/>
<path d="M1156.2 716.1 L1159.0 718.4 L1156.4 720.6 Z" fill="#8E9093"/>
<text x="1060.6" y="750.0" font-family="'Liberation Sans',sans-serif" font-size="7.2" fill="#9c9c9c" textLength="46" lengthAdjust="spacingAndGlyphs">J. Jünemann</text>
<text x="1060.6" y="760.2" font-family="'Liberation Sans',sans-serif" font-size="10.2" font-weight="700" fill="#848484" textLength="81" lengthAdjust="spacingAndGlyphs">Pferdetherapie</text>
<text x="1144.0" y="760.2" font-family="'Liberation Sans',sans-serif" font-size="10.2" font-weight="700" fill="#A6CD57" textLength="22" lengthAdjust="spacingAndGlyphs">Plus</text>
</g>
<path d="M829.5 58.8 A496 496 0 0 1 1303.9 162.5 L1325.6 145.3 L1340.8 273.6 L1214.4 241.7 L1231.7 226.9 A400 400 0 0 0 865.0 146.8 L912.5 79.2 Z" fill="#EF4F5D"/>
<path id="tp-red" d="M944.6 105.1 A430 430 0 0 1 1258.4 211.1" fill="none"/>
<text class="lbl" font-size="46" textLength="294.9" lengthAdjust="spacingAndGlyphs"><textPath href="#tp-red" textLength="294.9" lengthAdjust="spacingAndGlyphs">SCHMERZEN</textPath></text>
<path d="M1369.2 234.2 A496 496 0 0 1 1432.3 719.0 L1453.3 730.7 L1337.3 787.7 L1327.7 659.3 L1348.3 670.7 A400 400 0 0 0 1298.9 298.1 L1369.7 322.2 Z" fill="#8AB228"/>
<path id="tp-green" d="M1354.2 336.5 A428 428 0 0 1 1340.3 756.5" fill="none"/>
<text class="lbl" font-size="46" textLength="394.4" lengthAdjust="spacingAndGlyphs"><textPath href="#tp-green" textLength="394.4" lengthAdjust="spacingAndGlyphs">SCHONHALTUNG</textPath></text>
<path d="M1388.9 801.9 A496 496 0 0 1 955.7 1027.0 L951.8 1050.2 L864.2 958.1 L976.5 907.1 L972.3 931.8 A400 400 0 0 0 1305.2 756.6 L1311.9 838.8 Z" fill="#1881AB"/>
<path id="tp-blue" d="M1266.3 848.0 A428.5 428.5 0 0 1 887.0 953.5" fill="none"/>
<text class="lbl" font-size="46" textLength="364.2" lengthAdjust="spacingAndGlyphs"><textPath href="#tp-blue" textLength="364.2" lengthAdjust="spacingAndGlyphs">VERSPANNUNG</textPath></text>
<path d="M483.6 591.6 A496 496 0 0 1 741.1 95.6 L731.7 71.1 L858.3 98.3 L785.6 205.8 L776.7 184.4 A400 400 0 0 0 576.1 571.5 L526.7 510.8 Z" fill="#E8269E"/>
<path id="tp-pink" d="M548.0 459.7 A433 433 0 0 1 775.3 149.7" fill="none"/>
<text class="lbl" font-size="46" textLength="352.9" lengthAdjust="spacingAndGlyphs"><textPath href="#tp-pink" textLength="352.9" lengthAdjust="spacingAndGlyphs">ÜBERLASTUNG</textPath></text>
<path d="M862.6 1013.4 A496 496 0 0 1 502.2 683.1 L480.3 686.4 L532.8 570.0 L623.3 661.4 L598.3 666.4 A400 400 0 0 0 876.4 919.0 L802.4 957.6 Z" fill="#F79131"/>
<path id="tp-orange" d="M795.1 924.3 A429.5 429.5 0 0 1 547.9 583.5" fill="none"/>
<text class="lbl" font-size="46" textLength="395.0" lengthAdjust="spacingAndGlyphs"><textPath href="#tp-orange" textLength="395.0" lengthAdjust="spacingAndGlyphs">DURCHBLUTUNG</textPath></text>
<circle cx="831.6" cy="964.2" r="32.6" fill="#F41C1C"/>
<rect x="812.8" y="958.4" width="37.6" height="11.4" rx="5.7" fill="#fff"/>
</svg></body></html>
